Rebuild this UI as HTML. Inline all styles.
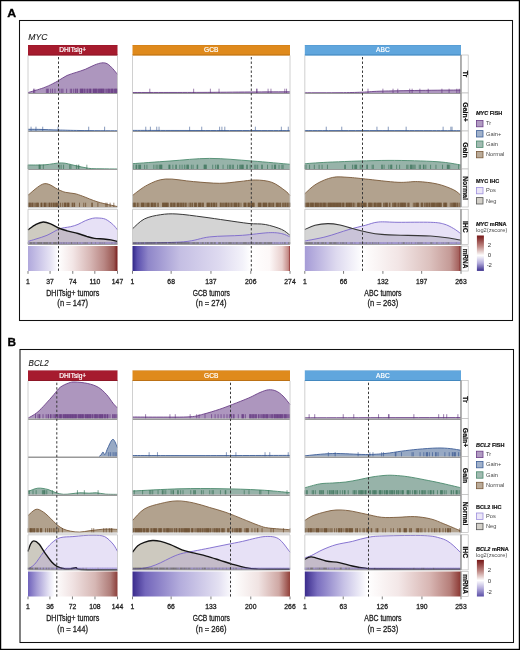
<!DOCTYPE html>
<html><head><meta charset="utf-8"><style>
html,body{margin:0;padding:0;background:#fff;}
svg{display:block;font-family:"Liberation Sans",sans-serif;will-change:transform;}
</style></head><body>
<svg width="520" height="650" viewBox="0 0 520 650">
<defs><linearGradient id="g0_0" x1="0" x2="1" y1="0" y2="0"><stop offset="0.000" stop-color="#b0a8dc"/><stop offset="0.250" stop-color="#e6e3f4"/><stop offset="0.340" stop-color="#ffffff"/><stop offset="0.500" stop-color="#f3e6e6"/><stop offset="0.700" stop-color="#d6b5b3"/><stop offset="0.850" stop-color="#b98784"/><stop offset="0.960" stop-color="#9a5853"/><stop offset="1.000" stop-color="#781c1c"/></linearGradient><linearGradient id="g0_1" x1="0" x2="1" y1="0" y2="0"><stop offset="0.000" stop-color="#2e2585"/><stop offset="0.030" stop-color="#5a4fae"/><stop offset="0.100" stop-color="#8f86c9"/><stop offset="0.300" stop-color="#c4bee3"/><stop offset="0.550" stop-color="#dedaf0"/><stop offset="0.700" stop-color="#f3f2fa"/><stop offset="0.750" stop-color="#ffffff"/><stop offset="0.870" stop-color="#fdf8f8"/><stop offset="0.950" stop-color="#e8cfcd"/><stop offset="0.990" stop-color="#c48a86"/><stop offset="1.000" stop-color="#8e2c2c"/></linearGradient><linearGradient id="g0_2" x1="0" x2="1" y1="0" y2="0"><stop offset="0.000" stop-color="#a59bd6"/><stop offset="0.200" stop-color="#ddd9ef"/><stop offset="0.370" stop-color="#ffffff"/><stop offset="0.600" stop-color="#f2e5e5"/><stop offset="0.800" stop-color="#dcc1be"/><stop offset="0.930" stop-color="#c59b97"/><stop offset="0.985" stop-color="#a5625e"/><stop offset="1.000" stop-color="#7a1a1a"/></linearGradient><linearGradient id="leg0" x1="0" x2="0" y1="0" y2="1"><stop offset="0" stop-color="#761616"/><stop offset="0.3" stop-color="#bd8682"/><stop offset="0.56" stop-color="#ffffff"/><stop offset="0.78" stop-color="#b3abdb"/><stop offset="1" stop-color="#3b2f8d"/></linearGradient><linearGradient id="g325_0" x1="0" x2="1" y1="0" y2="0"><stop offset="0.000" stop-color="#6f62bb"/><stop offset="0.100" stop-color="#a79ed6"/><stop offset="0.240" stop-color="#e8e6f5"/><stop offset="0.300" stop-color="#ffffff"/><stop offset="0.500" stop-color="#f0e2e2"/><stop offset="0.750" stop-color="#d6b7b4"/><stop offset="0.920" stop-color="#b07e7a"/><stop offset="1.000" stop-color="#8c3e3a"/></linearGradient><linearGradient id="g325_1" x1="0" x2="1" y1="0" y2="0"><stop offset="0.000" stop-color="#3a2b8c"/><stop offset="0.080" stop-color="#7366bb"/><stop offset="0.300" stop-color="#b3acdc"/><stop offset="0.550" stop-color="#e4e1f2"/><stop offset="0.640" stop-color="#ffffff"/><stop offset="0.800" stop-color="#f0e3e2"/><stop offset="0.930" stop-color="#cfa8a4"/><stop offset="1.000" stop-color="#914039"/></linearGradient><linearGradient id="g325_2" x1="0" x2="1" y1="0" y2="0"><stop offset="0.000" stop-color="#3a2b8c"/><stop offset="0.080" stop-color="#7a6ebf"/><stop offset="0.250" stop-color="#c7c2e6"/><stop offset="0.400" stop-color="#ffffff"/><stop offset="0.600" stop-color="#f3e7e7"/><stop offset="0.800" stop-color="#d8b6b3"/><stop offset="0.930" stop-color="#b67f7a"/><stop offset="1.000" stop-color="#8a3530"/></linearGradient><linearGradient id="leg325" x1="0" x2="0" y1="0" y2="1"><stop offset="0" stop-color="#761616"/><stop offset="0.3" stop-color="#bd8682"/><stop offset="0.56" stop-color="#ffffff"/><stop offset="0.78" stop-color="#b3abdb"/><stop offset="1" stop-color="#5a4ea6"/></linearGradient></defs>
<rect width="520" height="650" fill="#fff"/>
<rect x="0.6" y="0.6" width="518.8" height="648.8" fill="none" stroke="#000" stroke-width="1.25"/>
<rect x="19.50" y="20.50" width="493.00" height="300.00" fill="none" stroke="#111" stroke-width="1.05"/>
<text x="7.30" y="17.10" font-size="11.80" text-anchor="start" font-weight="bold" font-style="normal" fill="#000" textLength="8.90" lengthAdjust="spacingAndGlyphs" stroke="#000" stroke-width="0.3">A</text>
<text x="28.30" y="39.60" font-size="8.90" text-anchor="start" font-weight="normal" font-style="italic" fill="#1a1a1a" textLength="19.20" lengthAdjust="spacingAndGlyphs" stroke="#1a1a1a" stroke-width="0.12">MYC</text>
<rect x="28.00" y="45.00" width="89.50" height="10.40" fill="#a61b2e"/>
<rect x="28.00" y="54.50" width="89.50" height="0.9" fill="#8a1424"/>
<rect x="28.00" y="45.00" width="89.50" height="0.4" fill="#8a1424" fill-opacity="0.5"/>
<text x="72.75" y="52.40" font-size="6.60" text-anchor="middle" font-weight="normal" font-style="normal" fill="#fff" stroke="#fff" stroke-width="0.2">DHITsig+</text>
<path d="M28.00,92.60 C30.55,91.82 39.23,89.35 43.30,87.90 C47.37,86.45 49.87,85.12 52.40,83.90 C54.93,82.68 56.07,82.00 58.50,80.60 C60.93,79.20 64.05,76.87 67.00,75.50 C69.95,74.13 73.15,73.43 76.20,72.40 C79.25,71.37 82.25,70.53 85.30,69.30 C88.35,68.07 91.75,66.07 94.50,65.00 C97.25,63.93 99.67,63.10 101.80,62.90 C103.93,62.70 105.47,62.83 107.30,63.80 C109.13,64.77 111.10,66.92 112.80,68.70 C114.50,70.48 116.72,73.53 117.50,74.50 L117.50,93.00 L28.00,93.00 Z" fill="#a990bb" fill-opacity="0.95" stroke="none"/>
<path d="M28.00,92.60 C30.55,91.82 39.23,89.35 43.30,87.90 C47.37,86.45 49.87,85.12 52.40,83.90 C54.93,82.68 56.07,82.00 58.50,80.60 C60.93,79.20 64.05,76.87 67.00,75.50 C69.95,74.13 73.15,73.43 76.20,72.40 C79.25,71.37 82.25,70.53 85.30,69.30 C88.35,68.07 91.75,66.07 94.50,65.00 C97.25,63.93 99.67,63.10 101.80,62.90 C103.93,62.70 105.47,62.83 107.30,63.80 C109.13,64.77 111.10,66.92 112.80,68.70 C114.50,70.48 116.72,73.53 117.50,74.50" fill="none" stroke="#6b3f88" stroke-width="0.90"/>
<path d="M33.52,93.00v-4.30M34.74,93.00v-4.30M46.39,93.00v-4.30M47.62,93.00v-4.30M48.23,93.00v-4.30M50.68,93.00v-4.30M52.52,93.00v-4.30M54.97,93.00v-4.30M59.88,93.00v-4.30M61.72,93.00v-4.30M62.94,93.00v-4.30M66.62,93.00v-4.30M70.30,93.00v-4.30M71.52,93.00v-4.30M73.36,93.00v-4.30M75.20,93.00v-4.30M75.82,93.00v-4.30M77.04,93.00v-4.30M77.65,93.00v-4.30M80.11,93.00v-4.30M80.72,93.00v-4.30M81.33,93.00v-4.30M81.95,93.00v-4.30M82.56,93.00v-4.30M83.17,93.00v-4.30M84.40,93.00v-4.30M85.01,93.00v-4.30M86.24,93.00v-4.30M87.46,93.00v-4.30M88.08,93.00v-4.30M89.30,93.00v-4.30M89.91,93.00v-4.30M90.53,93.00v-4.30M91.14,93.00v-4.30M92.98,93.00v-4.30M93.59,93.00v-4.30M94.21,93.00v-4.30M94.82,93.00v-4.30M95.43,93.00v-4.30M96.04,93.00v-4.30M96.66,93.00v-4.30M97.27,93.00v-4.30M98.50,93.00v-4.30M99.11,93.00v-4.30M99.72,93.00v-4.30M100.34,93.00v-4.30M100.95,93.00v-4.30M101.56,93.00v-4.30M102.17,93.00v-4.30M102.79,93.00v-4.30M103.40,93.00v-4.30M104.01,93.00v-4.30M105.24,93.00v-4.30M106.47,93.00v-4.30M107.69,93.00v-4.30M108.30,93.00v-4.30M108.92,93.00v-4.30M109.53,93.00v-4.30M110.76,93.00v-4.30M111.37,93.00v-4.30M111.98,93.00v-4.30M112.60,93.00v-4.30M113.21,93.00v-4.30M114.43,93.00v-4.30M115.05,93.00v-4.30M115.66,93.00v-4.30M116.27,93.00v-4.30M116.89,93.00v-4.30M117.50,93.00v-4.30" stroke="#5a2a78" stroke-width="0.61" stroke-opacity="1.00" fill="none"/>
<path d="M28.00,129.30 C30.00,129.32 35.00,129.28 40.00,129.40 C45.00,129.52 51.33,129.82 58.00,130.00 C64.67,130.18 70.08,130.37 80.00,130.50 C89.92,130.63 111.25,130.75 117.50,130.80 L117.50,131.00 L28.00,131.00 Z" fill="#97a9c4" fill-opacity="1.00" stroke="none"/>
<path d="M28.00,129.30 C30.00,129.32 35.00,129.28 40.00,129.40 C45.00,129.52 51.33,129.82 58.00,130.00 C64.67,130.18 70.08,130.37 80.00,130.50 C89.92,130.63 111.25,130.75 117.50,130.80" fill="none" stroke="#3e5f98" stroke-width="0.90"/>
<path d="M31.07,131.00v-4.30M35.97,131.00v-4.30M42.71,131.00v-4.30M58.04,131.00v-4.30M88.69,131.00v-4.30M104.63,131.00v-4.30" stroke="#36558f" stroke-width="0.61" stroke-opacity="1.00" fill="none"/>
<path d="M28.00,165.00 C30.83,164.97 39.42,165.15 45.00,164.80 C50.58,164.45 56.50,162.78 61.50,162.90 C66.50,163.02 70.50,164.60 75.00,165.50 C79.50,166.40 84.33,167.75 88.50,168.30 C92.67,168.85 95.17,168.68 100.00,168.80 C104.83,168.92 114.58,168.97 117.50,169.00 L117.50,169.00 L28.00,169.00 Z" fill="#97b3a9" fill-opacity="1.00" stroke="none"/>
<path d="M28.00,165.00 C30.83,164.97 39.42,165.15 45.00,164.80 C50.58,164.45 56.50,162.78 61.50,162.90 C66.50,163.02 70.50,164.60 75.00,165.50 C79.50,166.40 84.33,167.75 88.50,168.30 C92.67,168.85 95.17,168.68 100.00,168.80 C104.83,168.92 114.58,168.97 117.50,169.00" fill="none" stroke="#4b8a6d" stroke-width="0.90"/>
<path d="M28.00,169.00v-4.30M39.03,169.00v-4.30M39.65,169.00v-4.30M40.26,169.00v-4.30M43.33,169.00v-4.30M59.26,169.00v-4.30M61.10,169.00v-4.30M63.55,169.00v-4.30M69.68,169.00v-4.30M70.91,169.00v-4.30M76.43,169.00v-4.30M78.27,169.00v-4.30M78.88,169.00v-4.30M86.85,169.00v-4.30" stroke="#2f6a4f" stroke-width="0.61" stroke-opacity="1.00" fill="none"/>
<path d="M28.00,195.20 C30.70,193.28 39.08,184.60 44.20,183.70 C49.32,182.80 55.17,188.37 58.70,189.80 C62.23,191.23 62.68,191.65 65.40,192.30 C68.12,192.95 72.12,193.05 75.00,193.70 C77.88,194.35 78.87,194.82 82.70,196.20 C86.53,197.58 92.20,200.27 98.00,202.00 C103.80,203.73 114.25,205.83 117.50,206.60 L117.50,207.00 L28.00,207.00 Z" fill="#b2a28e" fill-opacity="1.00" stroke="none"/>
<path d="M28.00,195.20 C30.70,193.28 39.08,184.60 44.20,183.70 C49.32,182.80 55.17,188.37 58.70,189.80 C62.23,191.23 62.68,191.65 65.40,192.30 C68.12,192.95 72.12,193.05 75.00,193.70 C77.88,194.35 78.87,194.82 82.70,196.20 C86.53,197.58 92.20,200.27 98.00,202.00 C103.80,203.73 114.25,205.83 117.50,206.60" fill="none" stroke="#7a5a3a" stroke-width="0.90"/>
<path d="M28.61,207.00v-4.30M29.23,207.00v-4.30M29.84,207.00v-4.30M30.45,207.00v-4.30M31.68,207.00v-4.30M32.29,207.00v-4.30M32.90,207.00v-4.30M34.13,207.00v-4.30M35.36,207.00v-4.30M36.58,207.00v-4.30M37.20,207.00v-4.30M37.81,207.00v-4.30M38.42,207.00v-4.30M40.87,207.00v-4.30M41.49,207.00v-4.30M42.10,207.00v-4.30M43.94,207.00v-4.30M44.55,207.00v-4.30M45.16,207.00v-4.30M45.78,207.00v-4.30M47.00,207.00v-4.30M48.84,207.00v-4.30M49.46,207.00v-4.30M50.07,207.00v-4.30M51.29,207.00v-4.30M51.91,207.00v-4.30M53.13,207.00v-4.30M53.75,207.00v-4.30M54.36,207.00v-4.30M55.59,207.00v-4.30M56.20,207.00v-4.30M56.81,207.00v-4.30M57.42,207.00v-4.30M58.65,207.00v-4.30M60.49,207.00v-4.30M62.33,207.00v-4.30M64.17,207.00v-4.30M64.78,207.00v-4.30M65.39,207.00v-4.30M66.01,207.00v-4.30M67.23,207.00v-4.30M67.85,207.00v-4.30M68.46,207.00v-4.30M69.07,207.00v-4.30M72.14,207.00v-4.30M72.75,207.00v-4.30M73.98,207.00v-4.30M74.59,207.00v-4.30M79.49,207.00v-4.30M83.78,207.00v-4.30M85.62,207.00v-4.30M91.75,207.00v-4.30M92.37,207.00v-4.30M97.88,207.00v-4.30M105.85,207.00v-4.30M107.08,207.00v-4.30M110.14,207.00v-4.30M113.82,207.00v-4.30" stroke="#5c3c1c" stroke-width="0.61" stroke-opacity="1.00" fill="none"/>
<path d="M28.00,229.90 C29.33,228.98 33.45,225.72 36.00,224.40 C38.55,223.08 40.87,222.10 43.30,222.00 C45.73,221.90 48.07,222.80 50.60,223.80 C53.13,224.80 55.77,226.83 58.50,228.00 C61.23,229.17 63.75,229.88 67.00,230.80 C70.25,231.72 74.63,232.53 78.00,233.50 C81.37,234.47 84.45,235.78 87.20,236.60 C89.95,237.42 91.77,238.00 94.50,238.40 C97.23,238.80 100.87,238.75 103.60,239.00 C106.33,239.25 108.58,239.50 110.90,239.90 C113.22,240.30 116.40,241.15 117.50,241.40 L117.50,244.40 L28.00,244.40 Z" fill="#cecbc1" stroke="none"/>
<path d="M28.00,241.40 C29.33,241.00 32.83,240.02 36.00,239.00 C39.17,237.98 43.25,236.92 47.00,235.30 C50.75,233.68 55.62,230.57 58.50,229.30 C61.38,228.03 62.27,228.13 64.30,227.70 C66.33,227.27 68.42,227.25 70.70,226.70 C72.98,226.15 75.57,225.40 78.00,224.40 C80.43,223.40 82.87,221.72 85.30,220.70 C87.73,219.68 90.47,218.75 92.60,218.30 C94.73,217.85 95.97,217.85 98.10,218.00 C100.23,218.15 102.95,218.13 105.40,219.20 C107.85,220.27 110.78,222.62 112.80,224.40 C114.82,226.18 116.72,228.98 117.50,229.90 L117.50,244.40 L28.00,244.40 Z" fill="#b09be0" fill-opacity="0.3" stroke="none"/>
<path d="M28.00,241.40 C29.33,241.00 32.83,240.02 36.00,239.00 C39.17,237.98 43.25,236.92 47.00,235.30 C50.75,233.68 55.62,230.57 58.50,229.30 C61.38,228.03 62.27,228.13 64.30,227.70 C66.33,227.27 68.42,227.25 70.70,226.70 C72.98,226.15 75.57,225.40 78.00,224.40 C80.43,223.40 82.87,221.72 85.30,220.70 C87.73,219.68 90.47,218.75 92.60,218.30 C94.73,217.85 95.97,217.85 98.10,218.00 C100.23,218.15 102.95,218.13 105.40,219.20 C107.85,220.27 110.78,222.62 112.80,224.40 C114.82,226.18 116.72,228.98 117.50,229.90" fill="none" stroke="#7a66cc" stroke-width="0.9"/>
<path d="M28.00,229.90 C29.33,228.98 33.45,225.72 36.00,224.40 C38.55,223.08 40.87,222.10 43.30,222.00 C45.73,221.90 48.07,222.80 50.60,223.80 C53.13,224.80 55.77,226.83 58.50,228.00 C61.23,229.17 63.75,229.88 67.00,230.80 C70.25,231.72 74.63,232.53 78.00,233.50 C81.37,234.47 84.45,235.78 87.20,236.60 C89.95,237.42 91.77,238.00 94.50,238.40 C97.23,238.80 100.87,238.75 103.60,239.00 C106.33,239.25 108.58,239.50 110.90,239.90 C113.22,240.30 116.40,241.15 117.50,241.40" fill="none" stroke="#141414" stroke-width="1.40"/>
<path d="M28.00,244.10v-2.0M29.84,244.10v-2.0M30.45,244.10v-2.0M31.07,244.10v-2.0M31.68,244.10v-2.0M32.29,244.10v-2.0M33.52,244.10v-2.0M34.13,244.10v-2.0M34.74,244.10v-2.0M35.97,244.10v-2.0M37.20,244.10v-2.0M37.81,244.10v-2.0M38.42,244.10v-2.0M39.03,244.10v-2.0M39.65,244.10v-2.0M40.26,244.10v-2.0M40.87,244.10v-2.0M41.49,244.10v-2.0M42.10,244.10v-2.0M43.33,244.10v-2.0M43.94,244.10v-2.0M44.55,244.10v-2.0M45.16,244.10v-2.0M45.78,244.10v-2.0M46.39,244.10v-2.0M47.00,244.10v-2.0M47.62,244.10v-2.0M48.23,244.10v-2.0M49.46,244.10v-2.0M50.07,244.10v-2.0M50.68,244.10v-2.0M51.29,244.10v-2.0M53.13,244.10v-2.0M53.75,244.10v-2.0M54.36,244.10v-2.0M54.97,244.10v-2.0M55.59,244.10v-2.0M56.20,244.10v-2.0M56.81,244.10v-2.0M58.04,244.10v-2.0M59.88,244.10v-2.0M61.72,244.10v-2.0M63.55,244.10v-2.0M64.78,244.10v-2.0M66.62,244.10v-2.0M69.07,244.10v-2.0M70.91,244.10v-2.0M71.52,244.10v-2.0M72.14,244.10v-2.0M73.98,244.10v-2.0M75.20,244.10v-2.0M77.04,244.10v-2.0M77.65,244.10v-2.0M80.11,244.10v-2.0M83.17,244.10v-2.0M84.40,244.10v-2.0M85.62,244.10v-2.0M86.24,244.10v-2.0M87.46,244.10v-2.0M91.14,244.10v-2.0M91.75,244.10v-2.0M95.43,244.10v-2.0M99.72,244.10v-2.0M100.95,244.10v-2.0M102.79,244.10v-2.0M104.63,244.10v-2.0M111.98,244.10v-2.0M115.05,244.10v-2.0M116.27,244.10v-2.0" stroke="#262626" stroke-width="0.61" stroke-opacity="0.55"/>
<path d="M28.61,244.10v-2.0M29.23,244.10v-2.0M32.90,244.10v-2.0M35.36,244.10v-2.0M36.58,244.10v-2.0M42.71,244.10v-2.0M48.84,244.10v-2.0M51.91,244.10v-2.0M52.52,244.10v-2.0M57.42,244.10v-2.0M58.65,244.10v-2.0M59.26,244.10v-2.0M60.49,244.10v-2.0M61.10,244.10v-2.0M62.33,244.10v-2.0M62.94,244.10v-2.0M64.17,244.10v-2.0M65.39,244.10v-2.0M66.01,244.10v-2.0M67.23,244.10v-2.0M67.85,244.10v-2.0M68.46,244.10v-2.0M69.68,244.10v-2.0M70.30,244.10v-2.0M72.75,244.10v-2.0M73.36,244.10v-2.0M74.59,244.10v-2.0M75.82,244.10v-2.0M76.43,244.10v-2.0M78.27,244.10v-2.0M78.88,244.10v-2.0M79.49,244.10v-2.0M80.72,244.10v-2.0M81.33,244.10v-2.0M81.95,244.10v-2.0M82.56,244.10v-2.0M83.78,244.10v-2.0M85.01,244.10v-2.0M86.85,244.10v-2.0M88.08,244.10v-2.0M88.69,244.10v-2.0M89.30,244.10v-2.0M89.91,244.10v-2.0M90.53,244.10v-2.0M92.37,244.10v-2.0M92.98,244.10v-2.0M93.59,244.10v-2.0M94.21,244.10v-2.0M94.82,244.10v-2.0M96.04,244.10v-2.0M96.66,244.10v-2.0M97.27,244.10v-2.0M97.88,244.10v-2.0M98.50,244.10v-2.0M99.11,244.10v-2.0M100.34,244.10v-2.0M101.56,244.10v-2.0M102.17,244.10v-2.0M103.40,244.10v-2.0M104.01,244.10v-2.0M105.24,244.10v-2.0M105.85,244.10v-2.0M106.47,244.10v-2.0M107.08,244.10v-2.0M107.69,244.10v-2.0M108.30,244.10v-2.0M108.92,244.10v-2.0M109.53,244.10v-2.0M110.14,244.10v-2.0M110.76,244.10v-2.0M111.37,244.10v-2.0M112.60,244.10v-2.0M113.21,244.10v-2.0M113.82,244.10v-2.0M114.43,244.10v-2.0M115.66,244.10v-2.0M116.89,244.10v-2.0M117.50,244.10v-2.0" stroke="#7462c4" stroke-width="0.61" stroke-opacity="0.55"/>
<rect x="28.00" y="246.00" width="89.50" height="25.00" fill="url(#g0_0)"/>
<line x1="28.00" x2="117.50" y1="93.50" y2="93.50" stroke="#999" stroke-width="1.00"/>
<line x1="28.00" x2="117.50" y1="131.50" y2="131.50" stroke="#999" stroke-width="1.00"/>
<line x1="28.00" x2="117.50" y1="169.50" y2="169.50" stroke="#999" stroke-width="1.00"/>
<line x1="28.00" x2="117.50" y1="207.60" y2="207.60" stroke="#c8c8c8" stroke-width="1"/>
<line x1="28.00" x2="117.50" y1="209.30" y2="209.30" stroke="#bdbdbd" stroke-width="0.8"/>
<line x1="28.00" x2="117.50" y1="244.40" y2="244.40" stroke="#8c8c8c" stroke-width="0.8"/>
<line x1="28.00" x2="28.00" y1="55.40" y2="207.00" stroke="#c4c4c4" stroke-width="0.8"/>
<line x1="28.00" x2="28.00" y1="209.30" y2="244.40" stroke="#c4c4c4" stroke-width="0.8"/>
<line x1="117.50" x2="117.50" y1="55.40" y2="207.00" stroke="#c4c4c4" stroke-width="0.8"/>
<line x1="117.50" x2="117.50" y1="209.30" y2="244.40" stroke="#c4c4c4" stroke-width="0.8"/>
<line x1="58.50" x2="58.50" y1="55.40" y2="272.00" stroke="#383838" stroke-width="1.0" stroke-dasharray="2.4,2.1" stroke-dashoffset="2.900"/>
<line x1="28.00" x2="28.00" y1="271.00" y2="273.80" stroke="#444" stroke-width="0.7"/>
<text x="28.00" y="283.60" font-size="6.80" text-anchor="middle" font-weight="normal" font-style="normal" fill="#1e1e1e" stroke="#1e1e1e" stroke-width="0.28">1</text>
<line x1="50.07" x2="50.07" y1="271.00" y2="273.80" stroke="#444" stroke-width="0.7"/>
<text x="50.07" y="283.60" font-size="6.80" text-anchor="middle" font-weight="normal" font-style="normal" fill="#1e1e1e" stroke="#1e1e1e" stroke-width="0.28">37</text>
<line x1="72.75" x2="72.75" y1="271.00" y2="273.80" stroke="#444" stroke-width="0.7"/>
<text x="72.75" y="283.60" font-size="6.80" text-anchor="middle" font-weight="normal" font-style="normal" fill="#1e1e1e" stroke="#1e1e1e" stroke-width="0.28">74</text>
<line x1="94.82" x2="94.82" y1="271.00" y2="273.80" stroke="#444" stroke-width="0.7"/>
<text x="94.82" y="283.60" font-size="6.80" text-anchor="middle" font-weight="normal" font-style="normal" fill="#1e1e1e" stroke="#1e1e1e" stroke-width="0.28">110</text>
<line x1="117.50" x2="117.50" y1="271.00" y2="273.80" stroke="#444" stroke-width="0.7"/>
<text x="117.50" y="283.60" font-size="6.80" text-anchor="middle" font-weight="normal" font-style="normal" fill="#1e1e1e" stroke="#1e1e1e" stroke-width="0.28">147</text>
<text x="72.75" y="295.90" font-size="8.40" text-anchor="middle" font-weight="normal" font-style="normal" fill="#1e1e1e" textLength="53.20" lengthAdjust="spacingAndGlyphs" stroke="#1e1e1e" stroke-width="0.28">DHITsig+ tumors</text>
<text x="72.75" y="306.00" font-size="8.40" text-anchor="middle" font-weight="normal" font-style="normal" fill="#1e1e1e" textLength="30.80" lengthAdjust="spacingAndGlyphs" stroke="#1e1e1e" stroke-width="0.28">(n = 147)</text>
<rect x="132.50" y="45.00" width="157.50" height="10.40" fill="#df8a1c"/>
<rect x="132.50" y="54.50" width="157.50" height="0.9" fill="#b86e12"/>
<rect x="132.50" y="45.00" width="157.50" height="0.4" fill="#b86e12" fill-opacity="0.5"/>
<text x="211.25" y="52.40" font-size="6.60" text-anchor="middle" font-weight="normal" font-style="normal" fill="#fff" stroke="#fff" stroke-width="0.2">GCB</text>
<path d="M132.50,92.50 C143.75,92.48 180.42,92.48 200.00,92.40 C219.58,92.32 235.00,92.10 250.00,92.00 C265.00,91.90 283.33,91.83 290.00,91.80 L290.00,93.00 L132.50,93.00 Z" fill="#a990bb" fill-opacity="0.95" stroke="none"/>
<path d="M132.50,92.50 C143.75,92.48 180.42,92.48 200.00,92.40 C219.58,92.32 235.00,92.10 250.00,92.00 C265.00,91.90 283.33,91.83 290.00,91.80" fill="none" stroke="#6b3f88" stroke-width="0.90"/>
<path d="M149.81,93.00v-4.30M193.65,93.00v-4.30M210.38,93.00v-4.30M219.04,93.00v-4.30M256.54,93.00v-4.30M257.12,93.00v-4.30M268.08,93.00v-4.30M270.96,93.00v-4.30M284.81,93.00v-4.30M286.54,93.00v-4.30" stroke="#5a2a78" stroke-width="0.58" stroke-opacity="1.00" fill="none"/>
<path d="M132.50,130.40 C143.75,130.42 173.75,130.47 200.00,130.50 C226.25,130.53 275.00,130.58 290.00,130.60 L290.00,131.00 L132.50,131.00 Z" fill="#97a9c4" fill-opacity="1.00" stroke="none"/>
<path d="M132.50,130.40 C143.75,130.42 173.75,130.47 200.00,130.50 C226.25,130.53 275.00,130.58 290.00,130.60" fill="none" stroke="#3e5f98" stroke-width="0.90"/>
<path d="M145.77,131.00v-4.30M150.38,131.00v-4.30M156.73,131.00v-4.30M159.04,131.00v-4.30M189.62,131.00v-4.30M201.73,131.00v-4.30M219.62,131.00v-4.30M221.92,131.00v-4.30M224.81,131.00v-4.30M255.38,131.00v-4.30M281.35,131.00v-4.30M288.27,131.00v-4.30" stroke="#36558f" stroke-width="0.58" stroke-opacity="1.00" fill="none"/>
<path d="M132.50,163.70 C138.75,163.25 157.13,161.88 170.00,161.00 C182.87,160.12 196.03,158.40 209.70,158.40 C223.37,158.40 238.62,160.02 252.00,161.00 C265.38,161.98 283.67,163.75 290.00,164.30 L290.00,169.00 L132.50,169.00 Z" fill="#97b3a9" fill-opacity="1.00" stroke="none"/>
<path d="M132.50,163.70 C138.75,163.25 157.13,161.88 170.00,161.00 C182.87,160.12 196.03,158.40 209.70,158.40 C223.37,158.40 238.62,160.02 252.00,161.00 C265.38,161.98 283.67,163.75 290.00,164.30" fill="none" stroke="#4b8a6d" stroke-width="0.90"/>
<path d="M133.08,169.00v-4.30M135.96,169.00v-4.30M136.54,169.00v-4.30M138.27,169.00v-4.30M139.42,169.00v-4.30M140.00,169.00v-4.30M140.58,169.00v-4.30M144.62,169.00v-4.30M146.92,169.00v-4.30M153.85,169.00v-4.30M156.15,169.00v-4.30M157.88,169.00v-4.30M159.62,169.00v-4.30M160.19,169.00v-4.30M160.77,169.00v-4.30M161.35,169.00v-4.30M161.92,169.00v-4.30M168.85,169.00v-4.30M169.42,169.00v-4.30M170.00,169.00v-4.30M172.88,169.00v-4.30M175.77,169.00v-4.30M176.35,169.00v-4.30M179.81,169.00v-4.30M182.12,169.00v-4.30M184.42,169.00v-4.30M186.15,169.00v-4.30M187.31,169.00v-4.30M187.88,169.00v-4.30M188.46,169.00v-4.30M191.35,169.00v-4.30M193.08,169.00v-4.30M197.12,169.00v-4.30M197.69,169.00v-4.30M204.04,169.00v-4.30M204.62,169.00v-4.30M205.19,169.00v-4.30M205.77,169.00v-4.30M206.35,169.00v-4.30M212.69,169.00v-4.30M215.58,169.00v-4.30M217.31,169.00v-4.30M217.88,169.00v-4.30M218.46,169.00v-4.30M223.08,169.00v-4.30M227.69,169.00v-4.30M229.42,169.00v-4.30M230.58,169.00v-4.30M232.31,169.00v-4.30M233.46,169.00v-4.30M237.50,169.00v-4.30M239.81,169.00v-4.30M240.38,169.00v-4.30M241.54,169.00v-4.30M242.12,169.00v-4.30M242.69,169.00v-4.30M243.27,169.00v-4.30M246.73,169.00v-4.30M247.31,169.00v-4.30M250.19,169.00v-4.30M254.81,169.00v-4.30M255.96,169.00v-4.30M257.69,169.00v-4.30M261.73,169.00v-4.30M262.31,169.00v-4.30M267.50,169.00v-4.30M272.12,169.00v-4.30M274.42,169.00v-4.30M275.00,169.00v-4.30M275.58,169.00v-4.30M279.04,169.00v-4.30M281.92,169.00v-4.30M283.08,169.00v-4.30" stroke="#2f6a4f" stroke-width="0.58" stroke-opacity="1.00" fill="none"/>
<path d="M132.50,195.40 C135.02,193.65 142.08,187.63 147.60,184.90 C153.12,182.17 157.97,179.55 165.60,179.00 C173.23,178.45 184.42,180.88 193.40,181.60 C202.38,182.32 211.90,183.30 219.50,183.30 C227.10,183.30 233.00,182.15 239.00,181.60 C245.00,181.05 250.03,179.88 255.50,180.00 C260.97,180.12 266.90,180.55 271.80,182.30 C276.70,184.05 281.87,188.32 284.90,190.50 C287.93,192.68 289.15,194.58 290.00,195.40 L290.00,207.00 L132.50,207.00 Z" fill="#b2a28e" fill-opacity="1.00" stroke="none"/>
<path d="M132.50,195.40 C135.02,193.65 142.08,187.63 147.60,184.90 C153.12,182.17 157.97,179.55 165.60,179.00 C173.23,178.45 184.42,180.88 193.40,181.60 C202.38,182.32 211.90,183.30 219.50,183.30 C227.10,183.30 233.00,182.15 239.00,181.60 C245.00,181.05 250.03,179.88 255.50,180.00 C260.97,180.12 266.90,180.55 271.80,182.30 C276.70,184.05 281.87,188.32 284.90,190.50 C287.93,192.68 289.15,194.58 290.00,195.40" fill="none" stroke="#7a5a3a" stroke-width="0.90"/>
<path d="M132.50,207.00v-4.30M133.65,207.00v-4.30M134.23,207.00v-4.30M134.81,207.00v-4.30M135.38,207.00v-4.30M137.12,207.00v-4.30M137.69,207.00v-4.30M138.85,207.00v-4.30M141.15,207.00v-4.30M141.73,207.00v-4.30M142.31,207.00v-4.30M142.88,207.00v-4.30M143.46,207.00v-4.30M144.04,207.00v-4.30M145.19,207.00v-4.30M146.35,207.00v-4.30M147.50,207.00v-4.30M148.08,207.00v-4.30M148.65,207.00v-4.30M149.23,207.00v-4.30M150.96,207.00v-4.30M151.54,207.00v-4.30M152.12,207.00v-4.30M152.69,207.00v-4.30M153.27,207.00v-4.30M154.42,207.00v-4.30M155.00,207.00v-4.30M155.58,207.00v-4.30M157.31,207.00v-4.30M158.46,207.00v-4.30M162.50,207.00v-4.30M163.08,207.00v-4.30M163.65,207.00v-4.30M164.23,207.00v-4.30M164.81,207.00v-4.30M165.38,207.00v-4.30M165.96,207.00v-4.30M166.54,207.00v-4.30M167.12,207.00v-4.30M167.69,207.00v-4.30M168.27,207.00v-4.30M170.58,207.00v-4.30M171.15,207.00v-4.30M171.73,207.00v-4.30M172.31,207.00v-4.30M173.46,207.00v-4.30M174.04,207.00v-4.30M174.62,207.00v-4.30M175.19,207.00v-4.30M176.92,207.00v-4.30M177.50,207.00v-4.30M178.08,207.00v-4.30M178.65,207.00v-4.30M179.23,207.00v-4.30M180.38,207.00v-4.30M180.96,207.00v-4.30M181.54,207.00v-4.30M182.69,207.00v-4.30M183.27,207.00v-4.30M183.85,207.00v-4.30M185.00,207.00v-4.30M185.58,207.00v-4.30M186.73,207.00v-4.30M189.04,207.00v-4.30M190.19,207.00v-4.30M190.77,207.00v-4.30M191.92,207.00v-4.30M192.50,207.00v-4.30M194.23,207.00v-4.30M194.81,207.00v-4.30M195.38,207.00v-4.30M195.96,207.00v-4.30M196.54,207.00v-4.30M198.27,207.00v-4.30M198.85,207.00v-4.30M199.42,207.00v-4.30M200.00,207.00v-4.30M200.58,207.00v-4.30M201.15,207.00v-4.30M202.31,207.00v-4.30M202.88,207.00v-4.30M203.46,207.00v-4.30M206.92,207.00v-4.30M207.50,207.00v-4.30M208.08,207.00v-4.30M208.65,207.00v-4.30M209.23,207.00v-4.30M209.81,207.00v-4.30M210.96,207.00v-4.30M211.54,207.00v-4.30M212.12,207.00v-4.30M213.27,207.00v-4.30M213.85,207.00v-4.30M214.42,207.00v-4.30M215.00,207.00v-4.30M216.15,207.00v-4.30M216.73,207.00v-4.30M220.19,207.00v-4.30M220.77,207.00v-4.30M221.35,207.00v-4.30M222.50,207.00v-4.30M223.65,207.00v-4.30M224.23,207.00v-4.30M225.38,207.00v-4.30M225.96,207.00v-4.30M226.54,207.00v-4.30M227.12,207.00v-4.30M228.27,207.00v-4.30M228.85,207.00v-4.30M230.00,207.00v-4.30M231.15,207.00v-4.30M231.73,207.00v-4.30M232.88,207.00v-4.30M234.04,207.00v-4.30M234.62,207.00v-4.30M235.19,207.00v-4.30M235.77,207.00v-4.30M236.35,207.00v-4.30M236.92,207.00v-4.30M238.08,207.00v-4.30M238.65,207.00v-4.30M239.23,207.00v-4.30M240.96,207.00v-4.30M243.85,207.00v-4.30M244.42,207.00v-4.30M245.00,207.00v-4.30M245.58,207.00v-4.30M246.15,207.00v-4.30M247.88,207.00v-4.30M248.46,207.00v-4.30M249.04,207.00v-4.30M249.62,207.00v-4.30M250.77,207.00v-4.30M251.35,207.00v-4.30M251.92,207.00v-4.30M252.50,207.00v-4.30M253.08,207.00v-4.30M253.65,207.00v-4.30M254.23,207.00v-4.30M258.27,207.00v-4.30M258.85,207.00v-4.30M259.42,207.00v-4.30M260.00,207.00v-4.30M260.58,207.00v-4.30M261.15,207.00v-4.30M262.88,207.00v-4.30M263.46,207.00v-4.30M264.04,207.00v-4.30M264.62,207.00v-4.30M265.19,207.00v-4.30M265.77,207.00v-4.30M266.35,207.00v-4.30M266.92,207.00v-4.30M268.65,207.00v-4.30M269.23,207.00v-4.30M269.81,207.00v-4.30M270.38,207.00v-4.30M271.54,207.00v-4.30M272.69,207.00v-4.30M273.27,207.00v-4.30M273.85,207.00v-4.30M276.15,207.00v-4.30M276.73,207.00v-4.30M277.31,207.00v-4.30M277.88,207.00v-4.30M278.46,207.00v-4.30M279.62,207.00v-4.30M280.19,207.00v-4.30M280.77,207.00v-4.30M282.50,207.00v-4.30M283.65,207.00v-4.30M284.23,207.00v-4.30M285.38,207.00v-4.30M285.96,207.00v-4.30M287.12,207.00v-4.30M287.69,207.00v-4.30M288.85,207.00v-4.30M289.42,207.00v-4.30M290.00,207.00v-4.30" stroke="#5c3c1c" stroke-width="0.58" stroke-opacity="1.00" fill="none"/>
<path d="M132.50,228.80 C134.47,227.17 139.60,221.35 144.30,219.00 C149.00,216.65 155.25,215.53 160.70,214.70 C166.15,213.87 169.95,213.62 177.00,214.00 C184.05,214.38 194.83,215.95 203.00,217.00 C211.17,218.05 218.33,219.22 226.00,220.30 C233.67,221.38 242.45,222.80 249.00,223.50 C255.55,224.20 259.87,223.52 265.30,224.50 C270.73,225.48 277.48,227.60 281.60,229.40 C285.72,231.20 288.60,234.32 290.00,235.30 L290.00,244.40 L132.50,244.40 Z" fill="#d4d4d4" stroke="none"/>
<path d="M132.50,243.20 C141.02,242.97 170.73,242.85 183.60,241.80 C196.47,240.75 199.90,237.98 209.70,236.90 C219.50,235.82 232.60,236.00 242.40,235.30 C252.20,234.60 261.97,232.98 268.50,232.70 C275.03,232.42 278.02,232.90 281.60,233.60 C285.18,234.30 288.60,236.35 290.00,236.90 L290.00,244.40 L132.50,244.40 Z" fill="#b09be0" fill-opacity="0.3" stroke="none"/>
<path d="M132.50,243.20 C141.02,242.97 170.73,242.85 183.60,241.80 C196.47,240.75 199.90,237.98 209.70,236.90 C219.50,235.82 232.60,236.00 242.40,235.30 C252.20,234.60 261.97,232.98 268.50,232.70 C275.03,232.42 278.02,232.90 281.60,233.60 C285.18,234.30 288.60,236.35 290.00,236.90" fill="none" stroke="#7a66cc" stroke-width="0.9"/>
<path d="M132.50,228.80 C134.47,227.17 139.60,221.35 144.30,219.00 C149.00,216.65 155.25,215.53 160.70,214.70 C166.15,213.87 169.95,213.62 177.00,214.00 C184.05,214.38 194.83,215.95 203.00,217.00 C211.17,218.05 218.33,219.22 226.00,220.30 C233.67,221.38 242.45,222.80 249.00,223.50 C255.55,224.20 259.87,223.52 265.30,224.50 C270.73,225.48 277.48,227.60 281.60,229.40 C285.72,231.20 288.60,234.32 290.00,235.30" fill="none" stroke="#383838" stroke-width="1.00"/>
<path d="M132.50,244.10v-2.0M133.08,244.10v-2.0M133.65,244.10v-2.0M134.23,244.10v-2.0M134.81,244.10v-2.0M135.38,244.10v-2.0M135.96,244.10v-2.0M136.54,244.10v-2.0M137.69,244.10v-2.0M138.27,244.10v-2.0M138.85,244.10v-2.0M139.42,244.10v-2.0M140.58,244.10v-2.0M141.15,244.10v-2.0M141.73,244.10v-2.0M142.31,244.10v-2.0M142.88,244.10v-2.0M143.46,244.10v-2.0M144.04,244.10v-2.0M145.19,244.10v-2.0M145.77,244.10v-2.0M146.35,244.10v-2.0M146.92,244.10v-2.0M147.50,244.10v-2.0M148.08,244.10v-2.0M148.65,244.10v-2.0M149.23,244.10v-2.0M149.81,244.10v-2.0M150.38,244.10v-2.0M150.96,244.10v-2.0M151.54,244.10v-2.0M152.12,244.10v-2.0M152.69,244.10v-2.0M153.27,244.10v-2.0M153.85,244.10v-2.0M154.42,244.10v-2.0M155.00,244.10v-2.0M155.58,244.10v-2.0M156.73,244.10v-2.0M157.31,244.10v-2.0M157.88,244.10v-2.0M158.46,244.10v-2.0M159.04,244.10v-2.0M159.62,244.10v-2.0M160.19,244.10v-2.0M160.77,244.10v-2.0M161.35,244.10v-2.0M161.92,244.10v-2.0M162.50,244.10v-2.0M163.08,244.10v-2.0M163.65,244.10v-2.0M164.23,244.10v-2.0M164.81,244.10v-2.0M165.38,244.10v-2.0M165.96,244.10v-2.0M166.54,244.10v-2.0M167.12,244.10v-2.0M168.27,244.10v-2.0M168.85,244.10v-2.0M169.42,244.10v-2.0M170.00,244.10v-2.0M170.58,244.10v-2.0M171.15,244.10v-2.0M171.73,244.10v-2.0M172.31,244.10v-2.0M172.88,244.10v-2.0M173.46,244.10v-2.0M174.04,244.10v-2.0M174.62,244.10v-2.0M175.19,244.10v-2.0M175.77,244.10v-2.0M176.92,244.10v-2.0M177.50,244.10v-2.0M178.08,244.10v-2.0M178.65,244.10v-2.0M179.23,244.10v-2.0M179.81,244.10v-2.0M180.38,244.10v-2.0M180.96,244.10v-2.0M181.54,244.10v-2.0M182.12,244.10v-2.0M182.69,244.10v-2.0M183.27,244.10v-2.0M183.85,244.10v-2.0M184.42,244.10v-2.0M185.00,244.10v-2.0M185.58,244.10v-2.0M186.15,244.10v-2.0M186.73,244.10v-2.0M187.31,244.10v-2.0M187.88,244.10v-2.0M188.46,244.10v-2.0M189.04,244.10v-2.0M189.62,244.10v-2.0M190.77,244.10v-2.0M191.35,244.10v-2.0M192.50,244.10v-2.0M193.08,244.10v-2.0M193.65,244.10v-2.0M194.23,244.10v-2.0M194.81,244.10v-2.0M195.38,244.10v-2.0M196.54,244.10v-2.0M197.12,244.10v-2.0M197.69,244.10v-2.0M198.27,244.10v-2.0M198.85,244.10v-2.0M200.58,244.10v-2.0M201.73,244.10v-2.0M202.31,244.10v-2.0M202.88,244.10v-2.0M203.46,244.10v-2.0M205.19,244.10v-2.0M205.77,244.10v-2.0M206.92,244.10v-2.0M207.50,244.10v-2.0M208.08,244.10v-2.0M208.65,244.10v-2.0M210.38,244.10v-2.0M210.96,244.10v-2.0M211.54,244.10v-2.0M212.12,244.10v-2.0M212.69,244.10v-2.0M213.85,244.10v-2.0M214.42,244.10v-2.0M215.00,244.10v-2.0M215.58,244.10v-2.0M218.46,244.10v-2.0M219.04,244.10v-2.0M219.62,244.10v-2.0M220.19,244.10v-2.0M220.77,244.10v-2.0M222.50,244.10v-2.0M223.08,244.10v-2.0M223.65,244.10v-2.0M224.81,244.10v-2.0M225.38,244.10v-2.0M226.54,244.10v-2.0M227.12,244.10v-2.0M228.27,244.10v-2.0M228.85,244.10v-2.0M229.42,244.10v-2.0M230.00,244.10v-2.0M230.58,244.10v-2.0M231.15,244.10v-2.0M231.73,244.10v-2.0M232.88,244.10v-2.0M233.46,244.10v-2.0M234.62,244.10v-2.0M235.77,244.10v-2.0M236.35,244.10v-2.0M236.92,244.10v-2.0M237.50,244.10v-2.0M238.65,244.10v-2.0M239.81,244.10v-2.0M240.38,244.10v-2.0M241.54,244.10v-2.0M242.69,244.10v-2.0M243.27,244.10v-2.0M243.85,244.10v-2.0M244.42,244.10v-2.0M245.00,244.10v-2.0M245.58,244.10v-2.0M246.15,244.10v-2.0M246.73,244.10v-2.0M247.88,244.10v-2.0M248.46,244.10v-2.0M249.62,244.10v-2.0M250.77,244.10v-2.0M251.35,244.10v-2.0M252.50,244.10v-2.0M253.08,244.10v-2.0M253.65,244.10v-2.0M255.38,244.10v-2.0M255.96,244.10v-2.0M256.54,244.10v-2.0M257.12,244.10v-2.0M257.69,244.10v-2.0M258.85,244.10v-2.0M259.42,244.10v-2.0M260.00,244.10v-2.0M260.58,244.10v-2.0M261.15,244.10v-2.0M261.73,244.10v-2.0M262.88,244.10v-2.0M264.04,244.10v-2.0M264.62,244.10v-2.0M265.19,244.10v-2.0M265.77,244.10v-2.0M266.35,244.10v-2.0M267.50,244.10v-2.0M268.08,244.10v-2.0M268.65,244.10v-2.0M269.23,244.10v-2.0M269.81,244.10v-2.0M270.38,244.10v-2.0M270.96,244.10v-2.0M271.54,244.10v-2.0M272.12,244.10v-2.0M274.42,244.10v-2.0M276.15,244.10v-2.0M277.88,244.10v-2.0M280.77,244.10v-2.0M282.50,244.10v-2.0M284.23,244.10v-2.0M284.81,244.10v-2.0M285.38,244.10v-2.0M288.27,244.10v-2.0M288.85,244.10v-2.0M289.42,244.10v-2.0M290.00,244.10v-2.0" stroke="#262626" stroke-width="0.58" stroke-opacity="0.55"/>
<path d="M137.12,244.10v-2.0M140.00,244.10v-2.0M144.62,244.10v-2.0M156.15,244.10v-2.0M167.69,244.10v-2.0M176.35,244.10v-2.0M190.19,244.10v-2.0M191.92,244.10v-2.0M195.96,244.10v-2.0M199.42,244.10v-2.0M200.00,244.10v-2.0M201.15,244.10v-2.0M204.04,244.10v-2.0M204.62,244.10v-2.0M206.35,244.10v-2.0M209.23,244.10v-2.0M209.81,244.10v-2.0M213.27,244.10v-2.0M216.15,244.10v-2.0M216.73,244.10v-2.0M217.31,244.10v-2.0M217.88,244.10v-2.0M221.35,244.10v-2.0M221.92,244.10v-2.0M224.23,244.10v-2.0M225.96,244.10v-2.0M227.69,244.10v-2.0M232.31,244.10v-2.0M234.04,244.10v-2.0M235.19,244.10v-2.0M238.08,244.10v-2.0M239.23,244.10v-2.0M240.96,244.10v-2.0M242.12,244.10v-2.0M247.31,244.10v-2.0M249.04,244.10v-2.0M250.19,244.10v-2.0M251.92,244.10v-2.0M254.23,244.10v-2.0M254.81,244.10v-2.0M258.27,244.10v-2.0M262.31,244.10v-2.0M263.46,244.10v-2.0M266.92,244.10v-2.0M272.69,244.10v-2.0M273.27,244.10v-2.0M273.85,244.10v-2.0M275.00,244.10v-2.0M275.58,244.10v-2.0M276.73,244.10v-2.0M277.31,244.10v-2.0M278.46,244.10v-2.0M279.04,244.10v-2.0M279.62,244.10v-2.0M280.19,244.10v-2.0M281.35,244.10v-2.0M281.92,244.10v-2.0M283.08,244.10v-2.0M283.65,244.10v-2.0M285.96,244.10v-2.0M286.54,244.10v-2.0M287.12,244.10v-2.0M287.69,244.10v-2.0" stroke="#7462c4" stroke-width="0.58" stroke-opacity="0.55"/>
<rect x="132.50" y="246.00" width="157.50" height="25.00" fill="url(#g0_1)"/>
<line x1="132.50" x2="290.00" y1="93.50" y2="93.50" stroke="#999" stroke-width="1.00"/>
<line x1="132.50" x2="290.00" y1="131.50" y2="131.50" stroke="#999" stroke-width="1.00"/>
<line x1="132.50" x2="290.00" y1="169.50" y2="169.50" stroke="#999" stroke-width="1.00"/>
<line x1="132.50" x2="290.00" y1="207.60" y2="207.60" stroke="#c8c8c8" stroke-width="1"/>
<line x1="132.50" x2="290.00" y1="209.30" y2="209.30" stroke="#bdbdbd" stroke-width="0.8"/>
<line x1="132.50" x2="290.00" y1="244.40" y2="244.40" stroke="#8c8c8c" stroke-width="0.8"/>
<line x1="132.50" x2="132.50" y1="55.40" y2="207.00" stroke="#c4c4c4" stroke-width="0.8"/>
<line x1="132.50" x2="132.50" y1="209.30" y2="244.40" stroke="#c4c4c4" stroke-width="0.8"/>
<line x1="290.00" x2="290.00" y1="55.40" y2="207.00" stroke="#c4c4c4" stroke-width="0.8"/>
<line x1="290.00" x2="290.00" y1="209.30" y2="244.40" stroke="#c4c4c4" stroke-width="0.8"/>
<line x1="251.30" x2="251.30" y1="55.40" y2="272.00" stroke="#383838" stroke-width="1.0" stroke-dasharray="2.4,2.1" stroke-dashoffset="2.900"/>
<line x1="132.50" x2="132.50" y1="271.00" y2="273.80" stroke="#444" stroke-width="0.7"/>
<text x="132.50" y="283.60" font-size="6.80" text-anchor="middle" font-weight="normal" font-style="normal" fill="#1e1e1e" stroke="#1e1e1e" stroke-width="0.28">1</text>
<line x1="171.15" x2="171.15" y1="271.00" y2="273.80" stroke="#444" stroke-width="0.7"/>
<text x="171.15" y="283.60" font-size="6.80" text-anchor="middle" font-weight="normal" font-style="normal" fill="#1e1e1e" stroke="#1e1e1e" stroke-width="0.28">68</text>
<line x1="210.96" x2="210.96" y1="271.00" y2="273.80" stroke="#444" stroke-width="0.7"/>
<text x="210.96" y="283.60" font-size="6.80" text-anchor="middle" font-weight="normal" font-style="normal" fill="#1e1e1e" stroke="#1e1e1e" stroke-width="0.28">137</text>
<line x1="250.77" x2="250.77" y1="271.00" y2="273.80" stroke="#444" stroke-width="0.7"/>
<text x="250.77" y="283.60" font-size="6.80" text-anchor="middle" font-weight="normal" font-style="normal" fill="#1e1e1e" stroke="#1e1e1e" stroke-width="0.28">206</text>
<line x1="290.00" x2="290.00" y1="271.00" y2="273.80" stroke="#444" stroke-width="0.7"/>
<text x="290.00" y="283.60" font-size="6.80" text-anchor="middle" font-weight="normal" font-style="normal" fill="#1e1e1e" stroke="#1e1e1e" stroke-width="0.28">274</text>
<text x="211.25" y="295.90" font-size="8.40" text-anchor="middle" font-weight="normal" font-style="normal" fill="#1e1e1e" textLength="37.20" lengthAdjust="spacingAndGlyphs" stroke="#1e1e1e" stroke-width="0.28">GCB tumors</text>
<text x="211.25" y="306.00" font-size="8.40" text-anchor="middle" font-weight="normal" font-style="normal" fill="#1e1e1e" textLength="30.80" lengthAdjust="spacingAndGlyphs" stroke="#1e1e1e" stroke-width="0.28">(n = 274)</text>
<rect x="304.80" y="45.00" width="156.20" height="10.40" fill="#60a6dd"/>
<rect x="304.80" y="54.50" width="156.20" height="0.9" fill="#3f84bb"/>
<rect x="304.80" y="45.00" width="156.20" height="0.4" fill="#3f84bb" fill-opacity="0.5"/>
<text x="382.90" y="52.40" font-size="6.60" text-anchor="middle" font-weight="normal" font-style="normal" fill="#fff" stroke="#fff" stroke-width="0.2">ABC</text>
<path d="M304.80,92.80 C310.67,92.78 330.47,92.80 340.00,92.70 C349.53,92.60 355.33,92.45 362.00,92.20 C368.67,91.95 370.33,91.50 380.00,91.20 C389.67,90.90 406.50,90.60 420.00,90.40 C433.50,90.20 454.17,90.07 461.00,90.00 L461.00,93.00 L304.80,93.00 Z" fill="#a990bb" fill-opacity="0.95" stroke="none"/>
<path d="M304.80,92.80 C310.67,92.78 330.47,92.80 340.00,92.70 C349.53,92.60 355.33,92.45 362.00,92.20 C368.67,91.95 370.33,91.50 380.00,91.20 C389.67,90.90 406.50,90.60 420.00,90.40 C433.50,90.20 454.17,90.07 461.00,90.00" fill="none" stroke="#6b3f88" stroke-width="0.90"/>
<path d="M368.00,93.00v-4.30M382.90,93.00v-4.30M393.04,93.00v-4.30M397.80,93.00v-4.30M409.73,93.00v-4.30M412.11,93.00v-4.30M419.86,93.00v-4.30M428.21,93.00v-4.30M441.92,93.00v-4.30M449.08,93.00v-4.30M456.83,93.00v-4.30M459.21,93.00v-4.30" stroke="#5a2a78" stroke-width="0.60" stroke-opacity="1.00" fill="none"/>
<path d="M304.80,130.60 C320.67,130.60 373.97,130.58 400.00,130.60 C426.03,130.62 450.83,130.68 461.00,130.70 L461.00,131.00 L304.80,131.00 Z" fill="#97a9c4" fill-opacity="1.00" stroke="none"/>
<path d="M304.80,130.60 C320.67,130.60 373.97,130.58 400.00,130.60 C426.03,130.62 450.83,130.68 461.00,130.70" fill="none" stroke="#3e5f98" stroke-width="0.90"/>
<path d="M326.26,131.00v-4.30M341.76,131.00v-4.30M376.94,131.00v-4.30M388.27,131.00v-4.30M406.15,131.00v-4.30M443.11,131.00v-4.30M450.86,131.00v-4.30M452.06,131.00v-4.30" stroke="#36558f" stroke-width="0.60" stroke-opacity="1.00" fill="none"/>
<path d="M304.80,163.70 C309.45,163.42 318.83,162.55 332.70,162.00 C346.57,161.45 370.62,160.45 388.00,160.40 C405.38,160.35 424.83,160.93 437.00,161.70 C449.17,162.47 457.00,164.45 461.00,165.00 L461.00,169.00 L304.80,169.00 Z" fill="#97b3a9" fill-opacity="1.00" stroke="none"/>
<path d="M304.80,163.70 C309.45,163.42 318.83,162.55 332.70,162.00 C346.57,161.45 370.62,160.45 388.00,160.40 C405.38,160.35 424.83,160.93 437.00,161.70 C449.17,162.47 457.00,164.45 461.00,165.00" fill="none" stroke="#4b8a6d" stroke-width="0.90"/>
<path d="M304.80,169.00v-4.30M305.99,169.00v-4.30M309.57,169.00v-4.30M314.34,169.00v-4.30M319.11,169.00v-4.30M322.09,169.00v-4.30M327.45,169.00v-4.30M344.74,169.00v-4.30M345.34,169.00v-4.30M352.49,169.00v-4.30M354.28,169.00v-4.30M355.48,169.00v-4.30M356.07,169.00v-4.30M356.67,169.00v-4.30M360.25,169.00v-4.30M362.03,169.00v-4.30M366.80,169.00v-4.30M367.40,169.00v-4.30M372.17,169.00v-4.30M373.36,169.00v-4.30M381.71,169.00v-4.30M382.30,169.00v-4.30M384.09,169.00v-4.30M388.86,169.00v-4.30M390.65,169.00v-4.30M391.25,169.00v-4.30M391.84,169.00v-4.30M396.61,169.00v-4.30M399.59,169.00v-4.30M406.75,169.00v-4.30M407.94,169.00v-4.30M410.32,169.00v-4.30M410.92,169.00v-4.30M411.52,169.00v-4.30M412.71,169.00v-4.30M413.90,169.00v-4.30M415.09,169.00v-4.30M419.27,169.00v-4.30M420.46,169.00v-4.30M423.44,169.00v-4.30M424.04,169.00v-4.30M425.83,169.00v-4.30M430.59,169.00v-4.30M435.96,169.00v-4.30M442.52,169.00v-4.30M447.29,169.00v-4.30M447.88,169.00v-4.30M448.48,169.00v-4.30M449.67,169.00v-4.30M458.62,169.00v-4.30M461.00,169.00v-4.30" stroke="#2f6a4f" stroke-width="0.60" stroke-opacity="1.00" fill="none"/>
<path d="M304.80,193.70 C306.72,192.08 311.65,186.72 316.30,184.00 C320.95,181.28 327.25,178.50 332.70,177.40 C338.15,176.30 343.55,177.13 349.00,177.40 C354.45,177.67 357.23,178.18 365.40,179.00 C373.57,179.82 389.30,181.87 398.00,182.30 C406.70,182.73 411.05,181.32 417.60,181.60 C424.15,181.88 431.30,182.63 437.30,184.00 C443.30,185.37 449.65,187.90 453.60,189.80 C457.55,191.70 459.77,194.47 461.00,195.40 L461.00,207.00 L304.80,207.00 Z" fill="#b2a28e" fill-opacity="1.00" stroke="none"/>
<path d="M304.80,193.70 C306.72,192.08 311.65,186.72 316.30,184.00 C320.95,181.28 327.25,178.50 332.70,177.40 C338.15,176.30 343.55,177.13 349.00,177.40 C354.45,177.67 357.23,178.18 365.40,179.00 C373.57,179.82 389.30,181.87 398.00,182.30 C406.70,182.73 411.05,181.32 417.60,181.60 C424.15,181.88 431.30,182.63 437.30,184.00 C443.30,185.37 449.65,187.90 453.60,189.80 C457.55,191.70 459.77,194.47 461.00,195.40" fill="none" stroke="#7a5a3a" stroke-width="0.90"/>
<path d="M305.40,207.00v-4.30M306.59,207.00v-4.30M307.18,207.00v-4.30M307.78,207.00v-4.30M308.38,207.00v-4.30M308.97,207.00v-4.30M310.17,207.00v-4.30M310.76,207.00v-4.30M311.36,207.00v-4.30M311.95,207.00v-4.30M312.55,207.00v-4.30M313.15,207.00v-4.30M313.74,207.00v-4.30M314.94,207.00v-4.30M315.53,207.00v-4.30M316.13,207.00v-4.30M316.72,207.00v-4.30M317.32,207.00v-4.30M317.92,207.00v-4.30M318.51,207.00v-4.30M319.70,207.00v-4.30M320.30,207.00v-4.30M320.90,207.00v-4.30M321.49,207.00v-4.30M322.69,207.00v-4.30M323.28,207.00v-4.30M323.88,207.00v-4.30M324.47,207.00v-4.30M325.07,207.00v-4.30M325.67,207.00v-4.30M326.86,207.00v-4.30M328.05,207.00v-4.30M328.65,207.00v-4.30M329.24,207.00v-4.30M329.84,207.00v-4.30M330.44,207.00v-4.30M331.03,207.00v-4.30M331.63,207.00v-4.30M332.22,207.00v-4.30M332.82,207.00v-4.30M333.42,207.00v-4.30M334.01,207.00v-4.30M334.61,207.00v-4.30M335.21,207.00v-4.30M335.80,207.00v-4.30M336.40,207.00v-4.30M336.99,207.00v-4.30M337.59,207.00v-4.30M338.19,207.00v-4.30M338.78,207.00v-4.30M339.38,207.00v-4.30M339.97,207.00v-4.30M340.57,207.00v-4.30M341.17,207.00v-4.30M342.36,207.00v-4.30M342.96,207.00v-4.30M343.55,207.00v-4.30M344.15,207.00v-4.30M345.94,207.00v-4.30M346.53,207.00v-4.30M347.13,207.00v-4.30M347.73,207.00v-4.30M348.32,207.00v-4.30M348.92,207.00v-4.30M349.51,207.00v-4.30M350.11,207.00v-4.30M350.71,207.00v-4.30M351.30,207.00v-4.30M351.90,207.00v-4.30M353.09,207.00v-4.30M353.69,207.00v-4.30M354.88,207.00v-4.30M357.26,207.00v-4.30M357.86,207.00v-4.30M358.46,207.00v-4.30M359.05,207.00v-4.30M359.65,207.00v-4.30M360.84,207.00v-4.30M361.44,207.00v-4.30M362.63,207.00v-4.30M363.23,207.00v-4.30M363.82,207.00v-4.30M364.42,207.00v-4.30M365.01,207.00v-4.30M365.61,207.00v-4.30M366.21,207.00v-4.30M368.59,207.00v-4.30M369.19,207.00v-4.30M369.78,207.00v-4.30M370.38,207.00v-4.30M370.98,207.00v-4.30M371.57,207.00v-4.30M372.76,207.00v-4.30M373.96,207.00v-4.30M374.55,207.00v-4.30M375.15,207.00v-4.30M375.75,207.00v-4.30M376.34,207.00v-4.30M377.53,207.00v-4.30M378.13,207.00v-4.30M378.73,207.00v-4.30M379.32,207.00v-4.30M379.92,207.00v-4.30M380.52,207.00v-4.30M381.11,207.00v-4.30M383.50,207.00v-4.30M384.69,207.00v-4.30M385.28,207.00v-4.30M385.88,207.00v-4.30M386.48,207.00v-4.30M387.07,207.00v-4.30M387.67,207.00v-4.30M389.46,207.00v-4.30M390.05,207.00v-4.30M392.44,207.00v-4.30M393.63,207.00v-4.30M394.23,207.00v-4.30M394.82,207.00v-4.30M395.42,207.00v-4.30M396.02,207.00v-4.30M397.21,207.00v-4.30M398.40,207.00v-4.30M399.00,207.00v-4.30M400.19,207.00v-4.30M400.79,207.00v-4.30M401.38,207.00v-4.30M401.98,207.00v-4.30M402.57,207.00v-4.30M403.17,207.00v-4.30M403.77,207.00v-4.30M404.36,207.00v-4.30M404.96,207.00v-4.30M405.55,207.00v-4.30M407.34,207.00v-4.30M408.54,207.00v-4.30M409.13,207.00v-4.30M413.31,207.00v-4.30M414.50,207.00v-4.30M415.69,207.00v-4.30M416.29,207.00v-4.30M416.88,207.00v-4.30M417.48,207.00v-4.30M418.07,207.00v-4.30M418.67,207.00v-4.30M421.06,207.00v-4.30M421.65,207.00v-4.30M422.25,207.00v-4.30M422.84,207.00v-4.30M424.63,207.00v-4.30M425.23,207.00v-4.30M426.42,207.00v-4.30M427.02,207.00v-4.30M427.61,207.00v-4.30M428.81,207.00v-4.30M429.40,207.00v-4.30M430.00,207.00v-4.30M431.19,207.00v-4.30M431.79,207.00v-4.30M432.38,207.00v-4.30M432.98,207.00v-4.30M433.58,207.00v-4.30M434.17,207.00v-4.30M434.77,207.00v-4.30M435.36,207.00v-4.30M436.56,207.00v-4.30M437.15,207.00v-4.30M437.75,207.00v-4.30M438.35,207.00v-4.30M438.94,207.00v-4.30M439.54,207.00v-4.30M440.13,207.00v-4.30M440.73,207.00v-4.30M441.33,207.00v-4.30M443.71,207.00v-4.30M444.31,207.00v-4.30M444.90,207.00v-4.30M445.50,207.00v-4.30M446.10,207.00v-4.30M446.69,207.00v-4.30M450.27,207.00v-4.30M451.46,207.00v-4.30M452.65,207.00v-4.30M453.25,207.00v-4.30M453.85,207.00v-4.30M454.44,207.00v-4.30M455.04,207.00v-4.30M455.63,207.00v-4.30M456.23,207.00v-4.30M457.42,207.00v-4.30M458.02,207.00v-4.30M459.81,207.00v-4.30M460.40,207.00v-4.30" stroke="#5c3c1c" stroke-width="0.60" stroke-opacity="1.00" fill="none"/>
<path d="M304.80,229.50 C306.50,228.80 311.17,226.28 315.00,225.30 C318.83,224.32 323.63,223.65 327.80,223.60 C331.97,223.55 335.92,224.18 340.00,225.00 C344.08,225.82 348.07,227.37 352.30,228.50 C356.53,229.63 360.50,230.82 365.40,231.80 C370.30,232.78 374.63,233.80 381.70,234.40 C388.77,235.00 399.63,235.13 407.80,235.40 C415.97,235.67 424.17,235.62 430.70,236.00 C437.23,236.38 441.95,236.98 447.00,237.70 C452.05,238.42 458.67,239.87 461.00,240.30 L461.00,244.40 L304.80,244.40 Z" fill="#d4d4d4" stroke="none"/>
<path d="M304.80,241.00 C308.33,240.28 318.63,238.62 326.00,236.70 C333.37,234.78 342.43,231.40 349.00,229.50 C355.57,227.60 360.50,226.55 365.40,225.30 C370.30,224.05 372.97,222.50 378.40,222.00 C383.83,221.50 389.28,222.25 398.00,222.30 C406.72,222.35 423.07,222.02 430.70,222.30 C438.33,222.58 439.98,222.97 443.80,224.00 C447.62,225.03 450.73,226.87 453.60,228.50 C456.47,230.13 459.77,232.92 461.00,233.80 L461.00,244.40 L304.80,244.40 Z" fill="#b09be0" fill-opacity="0.3" stroke="none"/>
<path d="M304.80,241.00 C308.33,240.28 318.63,238.62 326.00,236.70 C333.37,234.78 342.43,231.40 349.00,229.50 C355.57,227.60 360.50,226.55 365.40,225.30 C370.30,224.05 372.97,222.50 378.40,222.00 C383.83,221.50 389.28,222.25 398.00,222.30 C406.72,222.35 423.07,222.02 430.70,222.30 C438.33,222.58 439.98,222.97 443.80,224.00 C447.62,225.03 450.73,226.87 453.60,228.50 C456.47,230.13 459.77,232.92 461.00,233.80" fill="none" stroke="#7a66cc" stroke-width="0.9"/>
<path d="M304.80,229.50 C306.50,228.80 311.17,226.28 315.00,225.30 C318.83,224.32 323.63,223.65 327.80,223.60 C331.97,223.55 335.92,224.18 340.00,225.00 C344.08,225.82 348.07,227.37 352.30,228.50 C356.53,229.63 360.50,230.82 365.40,231.80 C370.30,232.78 374.63,233.80 381.70,234.40 C388.77,235.00 399.63,235.13 407.80,235.40 C415.97,235.67 424.17,235.62 430.70,236.00 C437.23,236.38 441.95,236.98 447.00,237.70 C452.05,238.42 458.67,239.87 461.00,240.30" fill="none" stroke="#383838" stroke-width="1.10"/>
<path d="M304.80,244.10v-2.0M305.40,244.10v-2.0M305.99,244.10v-2.0M306.59,244.10v-2.0M307.18,244.10v-2.0M307.78,244.10v-2.0M308.38,244.10v-2.0M308.97,244.10v-2.0M309.57,244.10v-2.0M310.17,244.10v-2.0M310.76,244.10v-2.0M311.36,244.10v-2.0M311.95,244.10v-2.0M312.55,244.10v-2.0M314.34,244.10v-2.0M314.94,244.10v-2.0M315.53,244.10v-2.0M316.72,244.10v-2.0M317.32,244.10v-2.0M317.92,244.10v-2.0M318.51,244.10v-2.0M319.11,244.10v-2.0M320.30,244.10v-2.0M321.49,244.10v-2.0M322.09,244.10v-2.0M322.69,244.10v-2.0M323.28,244.10v-2.0M323.88,244.10v-2.0M325.07,244.10v-2.0M325.67,244.10v-2.0M326.26,244.10v-2.0M329.24,244.10v-2.0M329.84,244.10v-2.0M330.44,244.10v-2.0M331.03,244.10v-2.0M331.63,244.10v-2.0M332.22,244.10v-2.0M333.42,244.10v-2.0M334.01,244.10v-2.0M334.61,244.10v-2.0M335.21,244.10v-2.0M335.80,244.10v-2.0M336.40,244.10v-2.0M337.59,244.10v-2.0M338.78,244.10v-2.0M340.57,244.10v-2.0M341.17,244.10v-2.0M342.36,244.10v-2.0M342.96,244.10v-2.0M343.55,244.10v-2.0M344.74,244.10v-2.0M345.94,244.10v-2.0M346.53,244.10v-2.0M350.71,244.10v-2.0M351.30,244.10v-2.0M352.49,244.10v-2.0M354.88,244.10v-2.0M359.65,244.10v-2.0M360.84,244.10v-2.0M362.63,244.10v-2.0M363.23,244.10v-2.0M365.01,244.10v-2.0M366.21,244.10v-2.0M366.80,244.10v-2.0M369.19,244.10v-2.0M370.38,244.10v-2.0M372.17,244.10v-2.0M372.76,244.10v-2.0M373.96,244.10v-2.0M375.15,244.10v-2.0M376.34,244.10v-2.0M378.13,244.10v-2.0M378.73,244.10v-2.0M387.67,244.10v-2.0M391.84,244.10v-2.0M398.40,244.10v-2.0M401.98,244.10v-2.0M403.17,244.10v-2.0M403.77,244.10v-2.0M404.36,244.10v-2.0M406.75,244.10v-2.0M409.13,244.10v-2.0M411.52,244.10v-2.0M415.69,244.10v-2.0M417.48,244.10v-2.0M418.67,244.10v-2.0M419.27,244.10v-2.0M420.46,244.10v-2.0M421.65,244.10v-2.0M422.25,244.10v-2.0M425.83,244.10v-2.0M430.59,244.10v-2.0M431.19,244.10v-2.0M431.79,244.10v-2.0M432.98,244.10v-2.0M436.56,244.10v-2.0M437.75,244.10v-2.0M441.92,244.10v-2.0M443.71,244.10v-2.0M446.10,244.10v-2.0M447.29,244.10v-2.0M448.48,244.10v-2.0M449.08,244.10v-2.0M456.23,244.10v-2.0" stroke="#262626" stroke-width="0.60" stroke-opacity="0.55"/>
<path d="M313.15,244.10v-2.0M313.74,244.10v-2.0M316.13,244.10v-2.0M319.70,244.10v-2.0M320.90,244.10v-2.0M324.47,244.10v-2.0M326.86,244.10v-2.0M327.45,244.10v-2.0M328.05,244.10v-2.0M328.65,244.10v-2.0M332.82,244.10v-2.0M336.99,244.10v-2.0M338.19,244.10v-2.0M339.38,244.10v-2.0M339.97,244.10v-2.0M341.76,244.10v-2.0M344.15,244.10v-2.0M345.34,244.10v-2.0M347.13,244.10v-2.0M347.73,244.10v-2.0M348.32,244.10v-2.0M348.92,244.10v-2.0M349.51,244.10v-2.0M350.11,244.10v-2.0M351.90,244.10v-2.0M353.09,244.10v-2.0M353.69,244.10v-2.0M354.28,244.10v-2.0M355.48,244.10v-2.0M356.07,244.10v-2.0M356.67,244.10v-2.0M357.26,244.10v-2.0M357.86,244.10v-2.0M358.46,244.10v-2.0M359.05,244.10v-2.0M360.25,244.10v-2.0M361.44,244.10v-2.0M362.03,244.10v-2.0M363.82,244.10v-2.0M364.42,244.10v-2.0M365.61,244.10v-2.0M367.40,244.10v-2.0M368.00,244.10v-2.0M368.59,244.10v-2.0M369.78,244.10v-2.0M370.98,244.10v-2.0M371.57,244.10v-2.0M373.36,244.10v-2.0M374.55,244.10v-2.0M375.75,244.10v-2.0M376.94,244.10v-2.0M377.53,244.10v-2.0M379.32,244.10v-2.0M379.92,244.10v-2.0M380.52,244.10v-2.0M381.11,244.10v-2.0M381.71,244.10v-2.0M382.30,244.10v-2.0M382.90,244.10v-2.0M383.50,244.10v-2.0M384.09,244.10v-2.0M384.69,244.10v-2.0M385.28,244.10v-2.0M385.88,244.10v-2.0M386.48,244.10v-2.0M387.07,244.10v-2.0M388.27,244.10v-2.0M388.86,244.10v-2.0M389.46,244.10v-2.0M390.05,244.10v-2.0M390.65,244.10v-2.0M391.25,244.10v-2.0M392.44,244.10v-2.0M393.04,244.10v-2.0M393.63,244.10v-2.0M394.23,244.10v-2.0M394.82,244.10v-2.0M395.42,244.10v-2.0M396.02,244.10v-2.0M396.61,244.10v-2.0M397.21,244.10v-2.0M397.80,244.10v-2.0M399.00,244.10v-2.0M399.59,244.10v-2.0M400.19,244.10v-2.0M400.79,244.10v-2.0M401.38,244.10v-2.0M402.57,244.10v-2.0M404.96,244.10v-2.0M405.55,244.10v-2.0M406.15,244.10v-2.0M407.34,244.10v-2.0M407.94,244.10v-2.0M408.54,244.10v-2.0M409.73,244.10v-2.0M410.32,244.10v-2.0M410.92,244.10v-2.0M412.11,244.10v-2.0M412.71,244.10v-2.0M413.31,244.10v-2.0M413.90,244.10v-2.0M414.50,244.10v-2.0M415.09,244.10v-2.0M416.29,244.10v-2.0M416.88,244.10v-2.0M418.07,244.10v-2.0M419.86,244.10v-2.0M421.06,244.10v-2.0M422.84,244.10v-2.0M423.44,244.10v-2.0M424.04,244.10v-2.0M424.63,244.10v-2.0M425.23,244.10v-2.0M426.42,244.10v-2.0M427.02,244.10v-2.0M427.61,244.10v-2.0M428.21,244.10v-2.0M428.81,244.10v-2.0M429.40,244.10v-2.0M430.00,244.10v-2.0M432.38,244.10v-2.0M433.58,244.10v-2.0M434.17,244.10v-2.0M434.77,244.10v-2.0M435.36,244.10v-2.0M435.96,244.10v-2.0M437.15,244.10v-2.0M438.35,244.10v-2.0M438.94,244.10v-2.0M439.54,244.10v-2.0M440.13,244.10v-2.0M440.73,244.10v-2.0M441.33,244.10v-2.0M442.52,244.10v-2.0M443.11,244.10v-2.0M444.31,244.10v-2.0M444.90,244.10v-2.0M445.50,244.10v-2.0M446.69,244.10v-2.0M447.88,244.10v-2.0M449.67,244.10v-2.0M450.27,244.10v-2.0M450.86,244.10v-2.0M451.46,244.10v-2.0M452.06,244.10v-2.0M452.65,244.10v-2.0M453.25,244.10v-2.0M453.85,244.10v-2.0M454.44,244.10v-2.0M455.04,244.10v-2.0M455.63,244.10v-2.0M456.83,244.10v-2.0M457.42,244.10v-2.0M458.02,244.10v-2.0M458.62,244.10v-2.0M459.21,244.10v-2.0M459.81,244.10v-2.0M460.40,244.10v-2.0M461.00,244.10v-2.0" stroke="#7462c4" stroke-width="0.60" stroke-opacity="0.55"/>
<rect x="304.80" y="246.00" width="156.20" height="25.00" fill="url(#g0_2)"/>
<line x1="304.80" x2="461.00" y1="93.50" y2="93.50" stroke="#999" stroke-width="1.00"/>
<line x1="304.80" x2="461.00" y1="131.50" y2="131.50" stroke="#999" stroke-width="1.00"/>
<line x1="304.80" x2="461.00" y1="169.50" y2="169.50" stroke="#999" stroke-width="1.00"/>
<line x1="304.80" x2="461.00" y1="207.60" y2="207.60" stroke="#c8c8c8" stroke-width="1"/>
<line x1="304.80" x2="461.00" y1="209.30" y2="209.30" stroke="#bdbdbd" stroke-width="0.8"/>
<line x1="304.80" x2="461.00" y1="244.40" y2="244.40" stroke="#8c8c8c" stroke-width="0.8"/>
<line x1="304.80" x2="304.80" y1="55.40" y2="207.00" stroke="#c4c4c4" stroke-width="0.8"/>
<line x1="304.80" x2="304.80" y1="209.30" y2="244.40" stroke="#c4c4c4" stroke-width="0.8"/>
<line x1="461.00" x2="461.00" y1="55.40" y2="207.00" stroke="#c4c4c4" stroke-width="0.8"/>
<line x1="461.00" x2="461.00" y1="209.30" y2="244.40" stroke="#c4c4c4" stroke-width="0.8"/>
<line x1="362.50" x2="362.50" y1="55.40" y2="272.00" stroke="#383838" stroke-width="1.0" stroke-dasharray="2.4,2.1" stroke-dashoffset="2.900"/>
<line x1="304.80" x2="304.80" y1="271.00" y2="273.80" stroke="#444" stroke-width="0.7"/>
<text x="304.80" y="283.60" font-size="6.80" text-anchor="middle" font-weight="normal" font-style="normal" fill="#1e1e1e" stroke="#1e1e1e" stroke-width="0.28">1</text>
<line x1="343.55" x2="343.55" y1="271.00" y2="273.80" stroke="#444" stroke-width="0.7"/>
<text x="343.55" y="283.60" font-size="6.80" text-anchor="middle" font-weight="normal" font-style="normal" fill="#1e1e1e" stroke="#1e1e1e" stroke-width="0.28">66</text>
<line x1="382.90" x2="382.90" y1="271.00" y2="273.80" stroke="#444" stroke-width="0.7"/>
<text x="382.90" y="283.60" font-size="6.80" text-anchor="middle" font-weight="normal" font-style="normal" fill="#1e1e1e" stroke="#1e1e1e" stroke-width="0.28">132</text>
<line x1="421.65" x2="421.65" y1="271.00" y2="273.80" stroke="#444" stroke-width="0.7"/>
<text x="421.65" y="283.60" font-size="6.80" text-anchor="middle" font-weight="normal" font-style="normal" fill="#1e1e1e" stroke="#1e1e1e" stroke-width="0.28">197</text>
<line x1="461.00" x2="461.00" y1="271.00" y2="273.80" stroke="#444" stroke-width="0.7"/>
<text x="461.00" y="283.60" font-size="6.80" text-anchor="middle" font-weight="normal" font-style="normal" fill="#1e1e1e" stroke="#1e1e1e" stroke-width="0.28">263</text>
<text x="382.90" y="295.90" font-size="8.40" text-anchor="middle" font-weight="normal" font-style="normal" fill="#1e1e1e" textLength="37.20" lengthAdjust="spacingAndGlyphs" stroke="#1e1e1e" stroke-width="0.28">ABC tumors</text>
<text x="382.90" y="306.00" font-size="8.40" text-anchor="middle" font-weight="normal" font-style="normal" fill="#1e1e1e" textLength="30.80" lengthAdjust="spacingAndGlyphs" stroke="#1e1e1e" stroke-width="0.28">(n = 263)</text>
<rect x="461.00" y="55.00" width="7.20" height="38.00" fill="#fff" stroke="#bbb" stroke-width="0.7"/>
<line x1="461.00" x2="461.00" y1="55.00" y2="93.00" stroke="#777" stroke-width="0.9"/>
<text x="0" y="0" font-size="6.9" font-weight="bold" fill="#111" stroke="#111" stroke-width="0.2" text-anchor="middle" transform="translate(462.50,74.00) rotate(90)">Tr</text>
<rect x="461.00" y="93.00" width="7.20" height="38.00" fill="#fff" stroke="#bbb" stroke-width="0.7"/>
<line x1="461.00" x2="461.00" y1="93.00" y2="131.00" stroke="#777" stroke-width="0.9"/>
<text x="0" y="0" font-size="6.9" font-weight="bold" fill="#111" stroke="#111" stroke-width="0.2" text-anchor="middle" transform="translate(462.50,112.00) rotate(90)">Gain+</text>
<rect x="461.00" y="131.00" width="7.20" height="38.00" fill="#fff" stroke="#bbb" stroke-width="0.7"/>
<line x1="461.00" x2="461.00" y1="131.00" y2="169.00" stroke="#777" stroke-width="0.9"/>
<text x="0" y="0" font-size="6.9" font-weight="bold" fill="#111" stroke="#111" stroke-width="0.2" text-anchor="middle" transform="translate(462.50,150.00) rotate(90)">Gain</text>
<rect x="461.00" y="169.00" width="7.20" height="38.00" fill="#fff" stroke="#bbb" stroke-width="0.7"/>
<line x1="461.00" x2="461.00" y1="169.00" y2="207.00" stroke="#777" stroke-width="0.9"/>
<text x="0" y="0" font-size="6.9" font-weight="bold" fill="#111" stroke="#111" stroke-width="0.2" text-anchor="middle" transform="translate(462.50,188.00) rotate(90)">Normal</text>
<rect x="461.00" y="209.30" width="7.20" height="35.10" fill="#fff" stroke="#bbb" stroke-width="0.7"/>
<line x1="461.00" x2="461.00" y1="209.30" y2="244.40" stroke="#777" stroke-width="0.9"/>
<text x="0" y="0" font-size="6.9" font-weight="bold" fill="#111" stroke="#111" stroke-width="0.2" text-anchor="middle" transform="translate(462.50,226.85) rotate(90)">IHC</text>
<rect x="461.00" y="246.00" width="7.20" height="25.00" fill="#fff" stroke="#bbb" stroke-width="0.7"/>
<line x1="461.00" x2="461.00" y1="246.00" y2="271.00" stroke="#777" stroke-width="0.9"/>
<text x="0" y="0" font-size="6.9" font-weight="bold" fill="#111" stroke="#111" stroke-width="0.2" text-anchor="middle" textLength="19.7" lengthAdjust="spacingAndGlyphs" transform="translate(462.50,258.50) rotate(90)">mRNA</text>
<text x="476.00" y="115.10" font-size="5.5" font-weight="bold" fill="#111" stroke="#111" stroke-width="0.18"><tspan font-style="italic">MYC</tspan> FISH</text>
<rect x="476.40" y="120.40" width="6.6" height="6.4" fill="#a990bb" fill-opacity="0.90" stroke="#6b3f88" stroke-width="0.8"/>
<text x="486.00" y="125.30" font-size="5.70" text-anchor="start" font-weight="normal" font-style="normal" fill="#4a4a4a" >Tr</text>
<rect x="476.40" y="130.60" width="6.6" height="6.4" fill="#97a9c4" fill-opacity="0.90" stroke="#3e5f98" stroke-width="0.8"/>
<text x="486.00" y="135.50" font-size="5.70" text-anchor="start" font-weight="normal" font-style="normal" fill="#4a4a4a" >Gain+</text>
<rect x="476.40" y="141.00" width="6.6" height="6.4" fill="#97b3a9" fill-opacity="0.90" stroke="#4b8a6d" stroke-width="0.8"/>
<text x="486.00" y="145.90" font-size="5.70" text-anchor="start" font-weight="normal" font-style="normal" fill="#4a4a4a" >Gain</text>
<rect x="476.40" y="151.40" width="6.6" height="6.4" fill="#b2a28e" fill-opacity="0.90" stroke="#7a5a3a" stroke-width="0.8"/>
<text x="486.00" y="156.30" font-size="5.70" text-anchor="start" font-weight="normal" font-style="normal" fill="#4a4a4a" >Normal</text>
<text x="476.00" y="182.70" font-size="5.5" font-weight="bold" fill="#111" stroke="#111" stroke-width="0.18">MYC IHC</text>
<rect x="476.40" y="187.40" width="6.6" height="6.4" fill="#ebe6f7" fill-opacity="1.00" stroke="#9d8fdc" stroke-width="0.8"/>
<text x="486.00" y="192.30" font-size="5.70" text-anchor="start" font-weight="normal" font-style="normal" fill="#4a4a4a" >Pos</text>
<rect x="476.40" y="197.60" width="6.6" height="6.4" fill="#d3d0c9" fill-opacity="1.00" stroke="#555" stroke-width="0.8"/>
<text x="486.00" y="202.50" font-size="5.70" text-anchor="start" font-weight="normal" font-style="normal" fill="#4a4a4a" >Neg</text>
<text x="476.00" y="225.90" font-size="5.5" font-weight="bold" fill="#111" stroke="#111" stroke-width="0.18"><tspan font-style="italic">MYC</tspan> mRNA</text>
<text x="476.00" y="232.30" font-size="5.70" text-anchor="start" font-weight="normal" font-style="normal" fill="#4a4a4a" >log2(zscore)</text>
<rect x="476.9" y="235.50" width="7" height="35.40" fill="url(#leg0)"/>
<text x="489.30" y="247.10" font-size="6.00" text-anchor="middle" font-weight="normal" font-style="normal" fill="#333" >2</text>
<text x="489.30" y="256.80" font-size="6.00" text-anchor="middle" font-weight="normal" font-style="normal" fill="#333" >0</text>
<text x="489.30" y="266.50" font-size="6.00" text-anchor="middle" font-weight="normal" font-style="normal" fill="#333" >-2</text>
<rect x="20.00" y="349.50" width="493.50" height="293.00" fill="none" stroke="#111" stroke-width="1.05"/>
<text x="7.60" y="345.80" font-size="11.80" text-anchor="start" font-weight="bold" font-style="normal" fill="#000" stroke="#000" stroke-width="0.3">B</text>
<text x="28.60" y="365.70" font-size="9.30" text-anchor="start" font-weight="normal" font-style="italic" fill="#1a1a1a" textLength="20.00" lengthAdjust="spacingAndGlyphs" stroke="#1a1a1a" stroke-width="0.12">BCL2</text>
<rect x="28.00" y="370.50" width="89.50" height="10.40" fill="#a61b2e"/>
<rect x="28.00" y="380.00" width="89.50" height="0.9" fill="#8a1424"/>
<rect x="28.00" y="370.50" width="89.50" height="0.4" fill="#8a1424" fill-opacity="0.5"/>
<text x="72.75" y="377.90" font-size="6.60" text-anchor="middle" font-weight="normal" font-style="normal" fill="#fff" stroke="#fff" stroke-width="0.2">DHITsig+</text>
<path d="M28.00,418.20 C29.48,417.28 34.00,415.03 36.90,412.70 C39.80,410.37 42.58,407.20 45.40,404.20 C48.22,401.20 51.33,397.52 53.80,394.70 C56.27,391.88 57.72,389.25 60.20,387.30 C62.68,385.35 66.23,383.88 68.70,383.00 C71.17,382.12 71.83,381.92 75.00,382.00 C78.17,382.08 83.82,382.62 87.70,383.50 C91.58,384.38 95.13,385.43 98.30,387.30 C101.47,389.17 104.25,392.05 106.70,394.70 C109.15,397.35 111.20,400.98 113.00,403.20 C114.80,405.42 116.75,407.20 117.50,408.00 L117.50,418.50 L28.00,418.50 Z" fill="#a990bb" fill-opacity="0.95" stroke="none"/>
<path d="M28.00,418.20 C29.48,417.28 34.00,415.03 36.90,412.70 C39.80,410.37 42.58,407.20 45.40,404.20 C48.22,401.20 51.33,397.52 53.80,394.70 C56.27,391.88 57.72,389.25 60.20,387.30 C62.68,385.35 66.23,383.88 68.70,383.00 C71.17,382.12 71.83,381.92 75.00,382.00 C78.17,382.08 83.82,382.62 87.70,383.50 C91.58,384.38 95.13,385.43 98.30,387.30 C101.47,389.17 104.25,392.05 106.70,394.70 C109.15,397.35 111.20,400.98 113.00,403.20 C114.80,405.42 116.75,407.20 117.50,408.00" fill="none" stroke="#6b3f88" stroke-width="0.90"/>
<path d="M35.51,418.50v-4.30M38.01,418.50v-4.30M39.27,418.50v-4.30M39.89,418.50v-4.30M43.02,418.50v-4.30M46.15,418.50v-4.30M48.03,418.50v-4.30M48.65,418.50v-4.30M50.53,418.50v-4.30M51.16,418.50v-4.30M53.03,418.50v-4.30M54.29,418.50v-4.30M55.54,418.50v-4.30M56.16,418.50v-4.30M57.42,418.50v-4.30M58.04,418.50v-4.30M59.29,418.50v-4.30M59.92,418.50v-4.30M60.55,418.50v-4.30M61.17,418.50v-4.30M61.80,418.50v-4.30M63.05,418.50v-4.30M63.67,418.50v-4.30M64.30,418.50v-4.30M64.93,418.50v-4.30M65.55,418.50v-4.30M66.18,418.50v-4.30M66.80,418.50v-4.30M67.43,418.50v-4.30M68.06,418.50v-4.30M68.68,418.50v-4.30M69.31,418.50v-4.30M69.93,418.50v-4.30M70.56,418.50v-4.30M71.19,418.50v-4.30M71.81,418.50v-4.30M72.44,418.50v-4.30M73.06,418.50v-4.30M73.69,418.50v-4.30M74.31,418.50v-4.30M74.94,418.50v-4.30M75.57,418.50v-4.30M76.19,418.50v-4.30M76.82,418.50v-4.30M78.07,418.50v-4.30M78.70,418.50v-4.30M79.32,418.50v-4.30M79.95,418.50v-4.30M80.57,418.50v-4.30M81.20,418.50v-4.30M81.83,418.50v-4.30M82.45,418.50v-4.30M83.08,418.50v-4.30M83.70,418.50v-4.30M84.95,418.50v-4.30M85.58,418.50v-4.30M86.21,418.50v-4.30M86.83,418.50v-4.30M87.46,418.50v-4.30M88.08,418.50v-4.30M88.71,418.50v-4.30M89.34,418.50v-4.30M89.96,418.50v-4.30M90.59,418.50v-4.30M91.21,418.50v-4.30M92.47,418.50v-4.30M93.09,418.50v-4.30M94.34,418.50v-4.30M94.97,418.50v-4.30M95.59,418.50v-4.30M96.22,418.50v-4.30M96.85,418.50v-4.30M97.47,418.50v-4.30M98.72,418.50v-4.30M99.35,418.50v-4.30M99.98,418.50v-4.30M100.60,418.50v-4.30M101.23,418.50v-4.30M101.85,418.50v-4.30M102.48,418.50v-4.30M103.10,418.50v-4.30M104.36,418.50v-4.30M104.98,418.50v-4.30M105.61,418.50v-4.30M106.86,418.50v-4.30M107.49,418.50v-4.30M108.11,418.50v-4.30M109.99,418.50v-4.30M112.49,418.50v-4.30M113.74,418.50v-4.30M114.37,418.50v-4.30M115.62,418.50v-4.30M116.87,418.50v-4.30M117.50,418.50v-4.30" stroke="#5a2a78" stroke-width="0.63" stroke-opacity="1.00" fill="none"/>
<path d="M99.00,456.50 C99.33,456.25 100.33,455.75 101.00,455.00 C101.67,454.25 102.33,452.07 103.00,452.00 C103.67,451.93 104.17,455.35 105.00,454.60 C105.83,453.85 106.67,450.05 108.00,447.50 C109.33,444.95 111.42,439.25 113.00,439.30 C114.58,439.35 116.75,446.38 117.50,447.80 L117.50,456.50 L99.00,456.50 Z" fill="#97a9c4" fill-opacity="1.00" stroke="none"/>
<path d="M99.00,456.50 C99.33,456.25 100.33,455.75 101.00,455.00 C101.67,454.25 102.33,452.07 103.00,452.00 C103.67,451.93 104.17,455.35 105.00,454.60 C105.83,453.85 106.67,450.05 108.00,447.50 C109.33,444.95 111.42,439.25 113.00,439.30 C114.58,439.35 116.75,446.38 117.50,447.80" fill="none" stroke="#3e5f98" stroke-width="0.90"/>
<path d="M108.74,456.50v-4.30M110.62,456.50v-4.30M113.12,456.50v-4.30M115.00,456.50v-4.30M116.25,456.50v-4.30" stroke="#36558f" stroke-width="0.63" stroke-opacity="1.00" fill="none"/>
<path d="M28.00,491.50 C29.63,490.95 34.47,488.53 37.80,488.20 C41.13,487.87 44.97,488.73 48.00,489.50 C51.03,490.27 53.43,492.00 56.00,492.80 C58.57,493.60 60.90,494.13 63.40,494.30 C65.90,494.47 68.27,494.05 71.00,493.80 C73.73,493.55 76.80,492.90 79.80,492.80 C82.80,492.70 86.25,493.20 89.00,493.20 C91.75,493.20 93.57,492.65 96.30,492.80 C99.03,492.95 101.87,493.83 105.40,494.10 C108.93,494.37 115.48,494.35 117.50,494.40 L117.50,494.50 L28.00,494.50 Z" fill="#97b3a9" fill-opacity="1.00" stroke="none"/>
<path d="M28.00,491.50 C29.63,490.95 34.47,488.53 37.80,488.20 C41.13,487.87 44.97,488.73 48.00,489.50 C51.03,490.27 53.43,492.00 56.00,492.80 C58.57,493.60 60.90,494.13 63.40,494.30 C65.90,494.47 68.27,494.05 71.00,493.80 C73.73,493.55 76.80,492.90 79.80,492.80 C82.80,492.70 86.25,493.20 89.00,493.20 C91.75,493.20 93.57,492.65 96.30,492.80 C99.03,492.95 101.87,493.83 105.40,494.10 C108.93,494.37 115.48,494.35 117.50,494.40" fill="none" stroke="#4b8a6d" stroke-width="0.90"/>
<path d="M28.63,494.50v-4.30M29.25,494.50v-4.30M33.01,494.50v-4.30M36.14,494.50v-4.30M42.40,494.50v-4.30M43.65,494.50v-4.30M44.27,494.50v-4.30M44.90,494.50v-4.30M46.78,494.50v-4.30M52.41,494.50v-4.30M77.44,494.50v-4.30M84.33,494.50v-4.30M98.10,494.50v-4.30" stroke="#2f6a4f" stroke-width="0.63" stroke-opacity="1.00" fill="none"/>
<path d="M28.00,515.60 C29.33,514.55 33.45,509.90 36.00,509.30 C38.55,508.70 40.87,510.48 43.30,512.00 C45.73,513.52 48.32,516.27 50.60,518.40 C52.88,520.53 54.87,523.03 57.00,524.80 C59.13,526.57 61.12,527.93 63.40,529.00 C65.68,530.07 67.97,530.68 70.70,531.20 C73.43,531.72 76.75,532.17 79.80,532.10 C82.85,532.03 85.95,531.20 89.00,530.80 C92.05,530.40 95.05,530.00 98.10,529.70 C101.15,529.40 104.07,529.05 107.30,529.00 C110.53,528.95 115.80,529.33 117.50,529.40 L117.50,532.50 L28.00,532.50 Z" fill="#b2a28e" fill-opacity="1.00" stroke="none"/>
<path d="M28.00,515.60 C29.33,514.55 33.45,509.90 36.00,509.30 C38.55,508.70 40.87,510.48 43.30,512.00 C45.73,513.52 48.32,516.27 50.60,518.40 C52.88,520.53 54.87,523.03 57.00,524.80 C59.13,526.57 61.12,527.93 63.40,529.00 C65.68,530.07 67.97,530.68 70.70,531.20 C73.43,531.72 76.75,532.17 79.80,532.10 C82.85,532.03 85.95,531.20 89.00,530.80 C92.05,530.40 95.05,530.00 98.10,529.70 C101.15,529.40 104.07,529.05 107.30,529.00 C110.53,528.95 115.80,529.33 117.50,529.40" fill="none" stroke="#7a5a3a" stroke-width="0.90"/>
<path d="M28.00,532.50v-4.30M29.88,532.50v-4.30M30.50,532.50v-4.30M31.13,532.50v-4.30M31.76,532.50v-4.30M32.38,532.50v-4.30M33.63,532.50v-4.30M34.26,532.50v-4.30M34.88,532.50v-4.30M36.76,532.50v-4.30M37.39,532.50v-4.30M38.64,532.50v-4.30M40.52,532.50v-4.30M41.14,532.50v-4.30M41.77,532.50v-4.30M45.52,532.50v-4.30M47.40,532.50v-4.30M49.28,532.50v-4.30M49.91,532.50v-4.30M51.78,532.50v-4.30M53.66,532.50v-4.30M54.91,532.50v-4.30M56.79,532.50v-4.30M58.67,532.50v-4.30M62.42,532.50v-4.30M91.84,532.50v-4.30M93.72,532.50v-4.30M103.73,532.50v-4.30M106.23,532.50v-4.30M109.36,532.50v-4.30M111.24,532.50v-4.30M111.87,532.50v-4.30" stroke="#5c3c1c" stroke-width="0.63" stroke-opacity="1.00" fill="none"/>
<path d="M28.00,551.40 C28.43,550.17 29.63,545.75 30.60,544.00 C31.57,542.25 32.40,540.90 33.80,540.90 C35.20,540.90 37.07,541.88 39.00,544.00 C40.93,546.12 43.28,550.60 45.40,553.60 C47.52,556.60 49.77,559.88 51.70,562.00 C53.63,564.12 54.88,565.17 57.00,566.30 C59.12,567.43 62.10,568.38 64.40,568.80 C66.70,569.22 68.87,568.98 70.80,568.80 C72.73,568.62 74.25,567.58 76.00,567.70 C77.75,567.82 74.38,569.15 81.30,569.50 C88.22,569.85 111.47,569.75 117.50,569.80 L117.50,569.90 L28.00,569.90 Z" fill="#cdcac0" stroke="none"/>
<path d="M28.00,569.00 C29.13,568.18 32.25,566.85 34.80,564.10 C37.35,561.35 40.48,556.02 43.30,552.50 C46.12,548.98 48.88,545.47 51.70,543.00 C54.52,540.53 56.67,538.77 60.20,537.70 C63.73,536.63 69.02,536.95 72.90,536.60 C76.78,536.25 79.98,535.83 83.50,535.60 C87.02,535.37 90.48,535.03 94.00,535.20 C97.52,535.37 101.43,535.13 104.60,536.60 C107.77,538.07 110.85,541.53 113.00,544.00 C115.15,546.47 116.75,550.17 117.50,551.40 L117.50,569.90 L28.00,569.90 Z" fill="#b09be0" fill-opacity="0.3" stroke="none"/>
<path d="M28.00,569.00 C29.13,568.18 32.25,566.85 34.80,564.10 C37.35,561.35 40.48,556.02 43.30,552.50 C46.12,548.98 48.88,545.47 51.70,543.00 C54.52,540.53 56.67,538.77 60.20,537.70 C63.73,536.63 69.02,536.95 72.90,536.60 C76.78,536.25 79.98,535.83 83.50,535.60 C87.02,535.37 90.48,535.03 94.00,535.20 C97.52,535.37 101.43,535.13 104.60,536.60 C107.77,538.07 110.85,541.53 113.00,544.00 C115.15,546.47 116.75,550.17 117.50,551.40" fill="none" stroke="#7a66cc" stroke-width="0.9"/>
<path d="M28.00,551.40 C28.43,550.17 29.63,545.75 30.60,544.00 C31.57,542.25 32.40,540.90 33.80,540.90 C35.20,540.90 37.07,541.88 39.00,544.00 C40.93,546.12 43.28,550.60 45.40,553.60 C47.52,556.60 49.77,559.88 51.70,562.00 C53.63,564.12 54.88,565.17 57.00,566.30 C59.12,567.43 62.10,568.38 64.40,568.80 C66.70,569.22 68.87,568.98 70.80,568.80 C72.73,568.62 74.25,567.58 76.00,567.70 C77.75,567.82 74.38,569.15 81.30,569.50 C88.22,569.85 111.47,569.75 117.50,569.80" fill="none" stroke="#141414" stroke-width="1.40"/>
<path d="M28.00,569.60v-2.0M28.63,569.60v-2.0M29.25,569.60v-2.0M29.88,569.60v-2.0M30.50,569.60v-2.0M31.13,569.60v-2.0M31.76,569.60v-2.0M32.38,569.60v-2.0M33.01,569.60v-2.0M34.88,569.60v-2.0M35.51,569.60v-2.0M36.14,569.60v-2.0M36.76,569.60v-2.0M37.39,569.60v-2.0M38.01,569.60v-2.0M39.89,569.60v-2.0M40.52,569.60v-2.0M43.02,569.60v-2.0M43.65,569.60v-2.0M46.15,569.60v-2.0M46.78,569.60v-2.0M48.65,569.60v-2.0M49.28,569.60v-2.0M51.78,569.60v-2.0M53.03,569.60v-2.0M61.17,569.60v-2.0M83.08,569.60v-2.0M86.21,569.60v-2.0M98.10,569.60v-2.0" stroke="#262626" stroke-width="0.63" stroke-opacity="0.55"/>
<path d="M33.63,569.60v-2.0M34.26,569.60v-2.0M38.64,569.60v-2.0M39.27,569.60v-2.0M41.14,569.60v-2.0M41.77,569.60v-2.0M42.40,569.60v-2.0M44.27,569.60v-2.0M44.90,569.60v-2.0M45.52,569.60v-2.0M47.40,569.60v-2.0M48.03,569.60v-2.0M49.91,569.60v-2.0M50.53,569.60v-2.0M51.16,569.60v-2.0M52.41,569.60v-2.0M53.66,569.60v-2.0M54.29,569.60v-2.0M54.91,569.60v-2.0M55.54,569.60v-2.0M56.16,569.60v-2.0M56.79,569.60v-2.0M57.42,569.60v-2.0M58.04,569.60v-2.0M58.67,569.60v-2.0M59.29,569.60v-2.0M59.92,569.60v-2.0M60.55,569.60v-2.0M61.80,569.60v-2.0M62.42,569.60v-2.0M63.05,569.60v-2.0M63.67,569.60v-2.0M64.30,569.60v-2.0M64.93,569.60v-2.0M65.55,569.60v-2.0M66.18,569.60v-2.0M66.80,569.60v-2.0M67.43,569.60v-2.0M68.06,569.60v-2.0M68.68,569.60v-2.0M69.31,569.60v-2.0M69.93,569.60v-2.0M70.56,569.60v-2.0M71.19,569.60v-2.0M71.81,569.60v-2.0M72.44,569.60v-2.0M73.06,569.60v-2.0M73.69,569.60v-2.0M74.31,569.60v-2.0M74.94,569.60v-2.0M75.57,569.60v-2.0M76.19,569.60v-2.0M76.82,569.60v-2.0M77.44,569.60v-2.0M78.07,569.60v-2.0M78.70,569.60v-2.0M79.32,569.60v-2.0M79.95,569.60v-2.0M80.57,569.60v-2.0M81.20,569.60v-2.0M81.83,569.60v-2.0M82.45,569.60v-2.0M83.70,569.60v-2.0M84.33,569.60v-2.0M84.95,569.60v-2.0M85.58,569.60v-2.0M86.83,569.60v-2.0M87.46,569.60v-2.0M88.08,569.60v-2.0M88.71,569.60v-2.0M89.34,569.60v-2.0M89.96,569.60v-2.0M90.59,569.60v-2.0M91.21,569.60v-2.0M91.84,569.60v-2.0M92.47,569.60v-2.0M93.09,569.60v-2.0M93.72,569.60v-2.0M94.34,569.60v-2.0M94.97,569.60v-2.0M95.59,569.60v-2.0M96.22,569.60v-2.0M96.85,569.60v-2.0M97.47,569.60v-2.0M98.72,569.60v-2.0M99.35,569.60v-2.0M99.98,569.60v-2.0M100.60,569.60v-2.0M101.23,569.60v-2.0M101.85,569.60v-2.0M102.48,569.60v-2.0M103.10,569.60v-2.0M103.73,569.60v-2.0M104.36,569.60v-2.0M104.98,569.60v-2.0M105.61,569.60v-2.0M106.23,569.60v-2.0M106.86,569.60v-2.0M107.49,569.60v-2.0M108.11,569.60v-2.0M108.74,569.60v-2.0M109.36,569.60v-2.0M109.99,569.60v-2.0M110.62,569.60v-2.0M111.24,569.60v-2.0M111.87,569.60v-2.0M112.49,569.60v-2.0M113.12,569.60v-2.0M113.74,569.60v-2.0M114.37,569.60v-2.0M115.00,569.60v-2.0M115.62,569.60v-2.0M116.25,569.60v-2.0M116.87,569.60v-2.0M117.50,569.60v-2.0" stroke="#7462c4" stroke-width="0.63" stroke-opacity="0.55"/>
<rect x="28.00" y="571.50" width="89.50" height="25.00" fill="url(#g325_0)"/>
<line x1="28.00" x2="117.50" y1="419.30" y2="419.30" stroke="#999" stroke-width="1.50"/>
<line x1="28.00" x2="117.50" y1="457.30" y2="457.30" stroke="#999" stroke-width="1.50"/>
<line x1="28.00" x2="117.50" y1="495.30" y2="495.30" stroke="#999" stroke-width="1.50"/>
<line x1="28.00" x2="117.50" y1="533.10" y2="533.10" stroke="#c8c8c8" stroke-width="1"/>
<line x1="28.00" x2="117.50" y1="534.80" y2="534.80" stroke="#bdbdbd" stroke-width="0.8"/>
<line x1="28.00" x2="117.50" y1="569.90" y2="569.90" stroke="#8c8c8c" stroke-width="0.8"/>
<line x1="28.00" x2="28.00" y1="380.90" y2="532.50" stroke="#c4c4c4" stroke-width="0.8"/>
<line x1="28.00" x2="28.00" y1="534.80" y2="569.90" stroke="#c4c4c4" stroke-width="0.8"/>
<line x1="117.50" x2="117.50" y1="380.90" y2="532.50" stroke="#c4c4c4" stroke-width="0.8"/>
<line x1="117.50" x2="117.50" y1="534.80" y2="569.90" stroke="#c4c4c4" stroke-width="0.8"/>
<line x1="56.80" x2="56.80" y1="380.90" y2="597.50" stroke="#383838" stroke-width="1.0" stroke-dasharray="2.4,2.1" stroke-dashoffset="2.700"/>
<line x1="28.00" x2="28.00" y1="596.50" y2="599.30" stroke="#444" stroke-width="0.7"/>
<text x="28.00" y="609.10" font-size="6.80" text-anchor="middle" font-weight="normal" font-style="normal" fill="#1e1e1e" stroke="#1e1e1e" stroke-width="0.28">1</text>
<line x1="49.91" x2="49.91" y1="596.50" y2="599.30" stroke="#444" stroke-width="0.7"/>
<text x="49.91" y="609.10" font-size="6.80" text-anchor="middle" font-weight="normal" font-style="normal" fill="#1e1e1e" stroke="#1e1e1e" stroke-width="0.28">36</text>
<line x1="72.44" x2="72.44" y1="596.50" y2="599.30" stroke="#444" stroke-width="0.7"/>
<text x="72.44" y="609.10" font-size="6.80" text-anchor="middle" font-weight="normal" font-style="normal" fill="#1e1e1e" stroke="#1e1e1e" stroke-width="0.28">72</text>
<line x1="94.97" x2="94.97" y1="596.50" y2="599.30" stroke="#444" stroke-width="0.7"/>
<text x="94.97" y="609.10" font-size="6.80" text-anchor="middle" font-weight="normal" font-style="normal" fill="#1e1e1e" stroke="#1e1e1e" stroke-width="0.28">108</text>
<line x1="117.50" x2="117.50" y1="596.50" y2="599.30" stroke="#444" stroke-width="0.7"/>
<text x="117.50" y="609.10" font-size="6.80" text-anchor="middle" font-weight="normal" font-style="normal" fill="#1e1e1e" stroke="#1e1e1e" stroke-width="0.28">144</text>
<text x="72.75" y="621.40" font-size="8.40" text-anchor="middle" font-weight="normal" font-style="normal" fill="#1e1e1e" textLength="53.20" lengthAdjust="spacingAndGlyphs" stroke="#1e1e1e" stroke-width="0.28">DHITsig+ tumors</text>
<text x="72.75" y="631.50" font-size="8.40" text-anchor="middle" font-weight="normal" font-style="normal" fill="#1e1e1e" textLength="30.80" lengthAdjust="spacingAndGlyphs" stroke="#1e1e1e" stroke-width="0.28">(n = 144)</text>
<rect x="132.50" y="370.50" width="157.50" height="10.40" fill="#df8a1c"/>
<rect x="132.50" y="380.00" width="157.50" height="0.9" fill="#b86e12"/>
<rect x="132.50" y="370.50" width="157.50" height="0.4" fill="#b86e12" fill-opacity="0.5"/>
<text x="211.25" y="377.90" font-size="6.60" text-anchor="middle" font-weight="normal" font-style="normal" fill="#fff" stroke="#fff" stroke-width="0.2">GCB</text>
<path d="M132.50,417.00 C137.08,417.02 150.42,417.13 160.00,417.10 C169.58,417.07 182.80,417.28 190.00,416.80 C197.20,416.32 198.28,415.45 203.20,414.20 C208.12,412.95 214.60,410.93 219.50,409.30 C224.40,407.67 227.70,406.30 232.60,404.40 C237.50,402.50 244.33,399.88 248.90,397.90 C253.47,395.92 256.73,393.85 260.00,392.50 C263.27,391.15 265.83,390.05 268.50,389.80 C271.17,389.55 273.58,389.97 276.00,391.00 C278.42,392.03 280.67,393.75 283.00,396.00 C285.33,398.25 288.83,403.08 290.00,404.50 L290.00,418.50 L132.50,418.50 Z" fill="#a990bb" fill-opacity="0.95" stroke="none"/>
<path d="M132.50,417.00 C137.08,417.02 150.42,417.13 160.00,417.10 C169.58,417.07 182.80,417.28 190.00,416.80 C197.20,416.32 198.28,415.45 203.20,414.20 C208.12,412.95 214.60,410.93 219.50,409.30 C224.40,407.67 227.70,406.30 232.60,404.40 C237.50,402.50 244.33,399.88 248.90,397.90 C253.47,395.92 256.73,393.85 260.00,392.50 C263.27,391.15 265.83,390.05 268.50,389.80 C271.17,389.55 273.58,389.97 276.00,391.00 C278.42,392.03 280.67,393.75 283.00,396.00 C285.33,398.25 288.83,403.08 290.00,404.50" fill="none" stroke="#6b3f88" stroke-width="0.90"/>
<path d="M145.58,418.50v-4.30M169.94,418.50v-4.30M175.29,418.50v-4.30M190.15,418.50v-4.30M196.69,418.50v-4.30M199.07,418.50v-4.30M205.01,418.50v-4.30M211.55,418.50v-4.30M215.11,418.50v-4.30M218.08,418.50v-4.30M221.06,418.50v-4.30M224.03,418.50v-4.30M227.00,418.50v-4.30M229.38,418.50v-4.30M231.16,418.50v-4.30M231.75,418.50v-4.30M233.54,418.50v-4.30M234.13,418.50v-4.30M238.29,418.50v-4.30M241.86,418.50v-4.30M242.45,418.50v-4.30M243.05,418.50v-4.30M243.64,418.50v-4.30M245.42,418.50v-4.30M249.58,418.50v-4.30M250.18,418.50v-4.30M250.77,418.50v-4.30M251.37,418.50v-4.30M252.56,418.50v-4.30M253.15,418.50v-4.30M253.75,418.50v-4.30M254.34,418.50v-4.30M255.53,418.50v-4.30M256.12,418.50v-4.30M256.72,418.50v-4.30M258.50,418.50v-4.30M259.09,418.50v-4.30M260.28,418.50v-4.30M261.47,418.50v-4.30M262.66,418.50v-4.30M263.25,418.50v-4.30M263.85,418.50v-4.30M264.44,418.50v-4.30M265.63,418.50v-4.30M266.23,418.50v-4.30M266.82,418.50v-4.30M267.42,418.50v-4.30M268.01,418.50v-4.30M269.20,418.50v-4.30M270.39,418.50v-4.30M271.58,418.50v-4.30M272.17,418.50v-4.30M272.76,418.50v-4.30M273.95,418.50v-4.30M274.55,418.50v-4.30M275.14,418.50v-4.30M275.74,418.50v-4.30M276.33,418.50v-4.30M276.92,418.50v-4.30M277.52,418.50v-4.30M278.11,418.50v-4.30M278.71,418.50v-4.30M279.30,418.50v-4.30M279.90,418.50v-4.30M280.49,418.50v-4.30M281.08,418.50v-4.30M281.68,418.50v-4.30M282.27,418.50v-4.30M282.87,418.50v-4.30M284.06,418.50v-4.30M284.65,418.50v-4.30M285.25,418.50v-4.30M285.84,418.50v-4.30M286.43,418.50v-4.30M287.62,418.50v-4.30M288.81,418.50v-4.30M289.41,418.50v-4.30" stroke="#5a2a78" stroke-width="0.59" stroke-opacity="1.00" fill="none"/>
<path d="M132.50,455.50 C143.75,455.52 173.75,455.62 200.00,455.60 C226.25,455.58 275.00,455.43 290.00,455.40 L290.00,456.50 L132.50,456.50 Z" fill="#97a9c4" fill-opacity="1.00" stroke="none"/>
<path d="M132.50,455.50 C143.75,455.52 173.75,455.62 200.00,455.60 C226.25,455.58 275.00,455.43 290.00,455.40" fill="none" stroke="#3e5f98" stroke-width="0.90"/>
<path d="M149.14,456.50v-4.30M157.46,456.50v-4.30M226.41,456.50v-4.30M235.92,456.50v-4.30M265.04,456.50v-4.30M269.79,456.50v-4.30M288.22,456.50v-4.30" stroke="#36558f" stroke-width="0.59" stroke-opacity="1.00" fill="none"/>
<path d="M132.50,491.00 C140.42,490.63 165.42,489.18 180.00,488.80 C194.58,488.42 206.67,488.50 220.00,488.70 C233.33,488.90 248.33,489.35 260.00,490.00 C271.67,490.65 285.00,492.17 290.00,492.60 L290.00,494.50 L132.50,494.50 Z" fill="#97b3a9" fill-opacity="1.00" stroke="none"/>
<path d="M132.50,491.00 C140.42,490.63 165.42,489.18 180.00,488.80 C194.58,488.42 206.67,488.50 220.00,488.70 C233.33,488.90 248.33,489.35 260.00,490.00 C271.67,490.65 285.00,492.17 290.00,492.60" fill="none" stroke="#4b8a6d" stroke-width="0.90"/>
<path d="M132.50,494.50v-4.30M134.28,494.50v-4.30M142.60,494.50v-4.30M149.74,494.50v-4.30M150.92,494.50v-4.30M152.71,494.50v-4.30M158.06,494.50v-4.30M162.22,494.50v-4.30M162.81,494.50v-4.30M164.00,494.50v-4.30M165.78,494.50v-4.30M171.13,494.50v-4.30M172.92,494.50v-4.30M173.51,494.50v-4.30M177.67,494.50v-4.30M178.26,494.50v-4.30M180.64,494.50v-4.30M183.02,494.50v-4.30M190.75,494.50v-4.30M193.72,494.50v-4.30M194.31,494.50v-4.30M195.50,494.50v-4.30M201.44,494.50v-4.30M203.23,494.50v-4.30M209.76,494.50v-4.30M212.14,494.50v-4.30M213.33,494.50v-4.30M220.46,494.50v-4.30M225.22,494.50v-4.30M225.81,494.50v-4.30M230.57,494.50v-4.30M244.24,494.50v-4.30M248.99,494.50v-4.30M259.69,494.50v-4.30M260.88,494.50v-4.30M268.60,494.50v-4.30M287.03,494.50v-4.30" stroke="#2f6a4f" stroke-width="0.59" stroke-opacity="1.00" fill="none"/>
<path d="M132.50,520.50 C134.47,518.58 139.60,511.83 144.30,509.00 C149.00,506.17 155.25,504.85 160.70,503.50 C166.15,502.15 171.55,501.00 177.00,500.90 C182.45,500.80 187.95,501.80 193.40,502.90 C198.85,504.00 204.27,505.92 209.70,507.50 C215.13,509.08 220.55,510.50 226.00,512.40 C231.45,514.30 236.95,516.73 242.40,518.90 C247.85,521.07 254.35,523.88 258.70,525.40 C263.05,526.92 263.28,527.28 268.50,528.00 C273.72,528.72 286.42,529.42 290.00,529.70 L290.00,532.50 L132.50,532.50 Z" fill="#b2a28e" fill-opacity="1.00" stroke="none"/>
<path d="M132.50,520.50 C134.47,518.58 139.60,511.83 144.30,509.00 C149.00,506.17 155.25,504.85 160.70,503.50 C166.15,502.15 171.55,501.00 177.00,500.90 C182.45,500.80 187.95,501.80 193.40,502.90 C198.85,504.00 204.27,505.92 209.70,507.50 C215.13,509.08 220.55,510.50 226.00,512.40 C231.45,514.30 236.95,516.73 242.40,518.90 C247.85,521.07 254.35,523.88 258.70,525.40 C263.05,526.92 263.28,527.28 268.50,528.00 C273.72,528.72 286.42,529.42 290.00,529.70" fill="none" stroke="#7a5a3a" stroke-width="0.90"/>
<path d="M133.09,532.50v-4.30M133.69,532.50v-4.30M134.88,532.50v-4.30M135.47,532.50v-4.30M136.07,532.50v-4.30M136.66,532.50v-4.30M137.25,532.50v-4.30M137.85,532.50v-4.30M138.44,532.50v-4.30M139.04,532.50v-4.30M139.63,532.50v-4.30M140.23,532.50v-4.30M140.82,532.50v-4.30M141.42,532.50v-4.30M142.01,532.50v-4.30M143.20,532.50v-4.30M143.79,532.50v-4.30M144.39,532.50v-4.30M144.98,532.50v-4.30M146.17,532.50v-4.30M146.76,532.50v-4.30M147.36,532.50v-4.30M147.95,532.50v-4.30M148.55,532.50v-4.30M150.33,532.50v-4.30M151.52,532.50v-4.30M152.11,532.50v-4.30M153.30,532.50v-4.30M153.90,532.50v-4.30M154.49,532.50v-4.30M155.08,532.50v-4.30M155.68,532.50v-4.30M156.27,532.50v-4.30M156.87,532.50v-4.30M158.65,532.50v-4.30M159.25,532.50v-4.30M159.84,532.50v-4.30M160.43,532.50v-4.30M161.03,532.50v-4.30M161.62,532.50v-4.30M163.41,532.50v-4.30M164.59,532.50v-4.30M165.19,532.50v-4.30M166.38,532.50v-4.30M166.97,532.50v-4.30M167.57,532.50v-4.30M168.16,532.50v-4.30M168.75,532.50v-4.30M169.35,532.50v-4.30M170.54,532.50v-4.30M171.73,532.50v-4.30M172.32,532.50v-4.30M174.10,532.50v-4.30M174.70,532.50v-4.30M175.89,532.50v-4.30M176.48,532.50v-4.30M177.08,532.50v-4.30M178.86,532.50v-4.30M179.45,532.50v-4.30M180.05,532.50v-4.30M181.24,532.50v-4.30M181.83,532.50v-4.30M182.42,532.50v-4.30M183.61,532.50v-4.30M184.21,532.50v-4.30M184.80,532.50v-4.30M185.40,532.50v-4.30M185.99,532.50v-4.30M186.58,532.50v-4.30M187.18,532.50v-4.30M187.77,532.50v-4.30M188.37,532.50v-4.30M188.96,532.50v-4.30M189.56,532.50v-4.30M191.34,532.50v-4.30M191.93,532.50v-4.30M192.53,532.50v-4.30M193.12,532.50v-4.30M194.91,532.50v-4.30M196.09,532.50v-4.30M197.28,532.50v-4.30M197.88,532.50v-4.30M198.47,532.50v-4.30M199.66,532.50v-4.30M200.25,532.50v-4.30M200.85,532.50v-4.30M202.04,532.50v-4.30M202.63,532.50v-4.30M203.82,532.50v-4.30M204.42,532.50v-4.30M205.60,532.50v-4.30M206.20,532.50v-4.30M206.79,532.50v-4.30M207.39,532.50v-4.30M207.98,532.50v-4.30M208.58,532.50v-4.30M209.17,532.50v-4.30M210.36,532.50v-4.30M210.95,532.50v-4.30M212.74,532.50v-4.30M213.92,532.50v-4.30M214.52,532.50v-4.30M215.71,532.50v-4.30M216.30,532.50v-4.30M216.90,532.50v-4.30M217.49,532.50v-4.30M218.68,532.50v-4.30M219.27,532.50v-4.30M219.87,532.50v-4.30M221.65,532.50v-4.30M222.25,532.50v-4.30M222.84,532.50v-4.30M223.43,532.50v-4.30M224.62,532.50v-4.30M227.59,532.50v-4.30M228.19,532.50v-4.30M228.78,532.50v-4.30M229.97,532.50v-4.30M232.35,532.50v-4.30M232.94,532.50v-4.30M234.73,532.50v-4.30M235.32,532.50v-4.30M236.51,532.50v-4.30M237.10,532.50v-4.30M237.70,532.50v-4.30M238.89,532.50v-4.30M239.48,532.50v-4.30M240.08,532.50v-4.30M240.67,532.50v-4.30M241.26,532.50v-4.30M244.83,532.50v-4.30M246.02,532.50v-4.30M246.61,532.50v-4.30M247.21,532.50v-4.30M247.80,532.50v-4.30M248.40,532.50v-4.30M251.96,532.50v-4.30M254.93,532.50v-4.30M257.31,532.50v-4.30M257.91,532.50v-4.30M262.07,532.50v-4.30M270.98,532.50v-4.30M273.36,532.50v-4.30M283.46,532.50v-4.30M290.00,532.50v-4.30" stroke="#5c3c1c" stroke-width="0.59" stroke-opacity="1.00" fill="none"/>
<path d="M132.50,552.20 C133.38,551.12 135.83,547.33 137.80,545.70 C139.77,544.07 141.85,543.27 144.30,542.40 C146.75,541.53 149.77,540.67 152.50,540.50 C155.23,540.33 157.70,540.70 160.70,541.40 C163.70,542.10 166.97,543.30 170.50,544.70 C174.03,546.10 178.08,548.43 181.90,549.80 C185.72,551.17 189.32,551.85 193.40,552.90 C197.48,553.95 202.05,554.90 206.40,556.10 C210.75,557.30 215.13,558.73 219.50,560.10 C223.87,561.47 228.25,563.05 232.60,564.30 C236.95,565.55 241.25,566.80 245.60,567.60 C249.95,568.40 251.30,568.82 258.70,569.10 C266.10,569.38 284.78,569.27 290.00,569.30 L290.00,569.90 L132.50,569.90 Z" fill="#cdc9bf" stroke="none"/>
<path d="M132.50,569.00 C133.92,568.93 137.93,569.00 141.00,568.60 C144.07,568.20 147.62,567.58 150.90,566.60 C154.18,565.62 157.43,564.17 160.70,562.70 C163.97,561.23 167.23,559.27 170.50,557.80 C173.77,556.33 176.48,555.00 180.30,553.90 C184.12,552.80 188.50,552.18 193.40,551.20 C198.30,550.22 204.27,549.08 209.70,548.00 C215.13,546.92 220.55,545.80 226.00,544.70 C231.45,543.60 237.48,542.48 242.40,541.40 C247.32,540.32 251.68,539.02 255.50,538.20 C259.32,537.38 262.05,536.67 265.30,536.50 C268.55,536.33 272.28,536.38 275.00,537.20 C277.72,538.02 279.10,538.90 281.60,541.40 C284.10,543.90 288.60,550.40 290.00,552.20 L290.00,569.90 L132.50,569.90 Z" fill="#b09be0" fill-opacity="0.3" stroke="none"/>
<path d="M132.50,569.00 C133.92,568.93 137.93,569.00 141.00,568.60 C144.07,568.20 147.62,567.58 150.90,566.60 C154.18,565.62 157.43,564.17 160.70,562.70 C163.97,561.23 167.23,559.27 170.50,557.80 C173.77,556.33 176.48,555.00 180.30,553.90 C184.12,552.80 188.50,552.18 193.40,551.20 C198.30,550.22 204.27,549.08 209.70,548.00 C215.13,546.92 220.55,545.80 226.00,544.70 C231.45,543.60 237.48,542.48 242.40,541.40 C247.32,540.32 251.68,539.02 255.50,538.20 C259.32,537.38 262.05,536.67 265.30,536.50 C268.55,536.33 272.28,536.38 275.00,537.20 C277.72,538.02 279.10,538.90 281.60,541.40 C284.10,543.90 288.60,550.40 290.00,552.20" fill="none" stroke="#7a66cc" stroke-width="0.9"/>
<path d="M132.50,552.20 C133.38,551.12 135.83,547.33 137.80,545.70 C139.77,544.07 141.85,543.27 144.30,542.40 C146.75,541.53 149.77,540.67 152.50,540.50 C155.23,540.33 157.70,540.70 160.70,541.40 C163.70,542.10 166.97,543.30 170.50,544.70 C174.03,546.10 178.08,548.43 181.90,549.80 C185.72,551.17 189.32,551.85 193.40,552.90 C197.48,553.95 202.05,554.90 206.40,556.10 C210.75,557.30 215.13,558.73 219.50,560.10 C223.87,561.47 228.25,563.05 232.60,564.30 C236.95,565.55 241.25,566.80 245.60,567.60 C249.95,568.40 251.30,568.82 258.70,569.10 C266.10,569.38 284.78,569.27 290.00,569.30" fill="none" stroke="#141414" stroke-width="1.40"/>
<path d="M132.50,569.60v-2.0M133.09,569.60v-2.0M133.69,569.60v-2.0M134.28,569.60v-2.0M134.88,569.60v-2.0M135.47,569.60v-2.0M136.07,569.60v-2.0M136.66,569.60v-2.0M137.25,569.60v-2.0M137.85,569.60v-2.0M138.44,569.60v-2.0M139.04,569.60v-2.0M139.63,569.60v-2.0M140.23,569.60v-2.0M140.82,569.60v-2.0M141.42,569.60v-2.0M142.60,569.60v-2.0M143.20,569.60v-2.0M143.79,569.60v-2.0M144.39,569.60v-2.0M144.98,569.60v-2.0M145.58,569.60v-2.0M146.17,569.60v-2.0M146.76,569.60v-2.0M147.36,569.60v-2.0M147.95,569.60v-2.0M148.55,569.60v-2.0M149.14,569.60v-2.0M149.74,569.60v-2.0M150.33,569.60v-2.0M150.92,569.60v-2.0M151.52,569.60v-2.0M152.11,569.60v-2.0M152.71,569.60v-2.0M153.30,569.60v-2.0M154.49,569.60v-2.0M155.08,569.60v-2.0M155.68,569.60v-2.0M156.27,569.60v-2.0M156.87,569.60v-2.0M157.46,569.60v-2.0M158.06,569.60v-2.0M159.25,569.60v-2.0M159.84,569.60v-2.0M160.43,569.60v-2.0M161.03,569.60v-2.0M161.62,569.60v-2.0M162.22,569.60v-2.0M162.81,569.60v-2.0M163.41,569.60v-2.0M164.00,569.60v-2.0M164.59,569.60v-2.0M165.78,569.60v-2.0M166.38,569.60v-2.0M166.97,569.60v-2.0M167.57,569.60v-2.0M168.16,569.60v-2.0M169.35,569.60v-2.0M170.54,569.60v-2.0M171.13,569.60v-2.0M171.73,569.60v-2.0M172.32,569.60v-2.0M172.92,569.60v-2.0M173.51,569.60v-2.0M174.10,569.60v-2.0M174.70,569.60v-2.0M175.29,569.60v-2.0M175.89,569.60v-2.0M176.48,569.60v-2.0M177.67,569.60v-2.0M178.26,569.60v-2.0M180.05,569.60v-2.0M180.64,569.60v-2.0M181.24,569.60v-2.0M181.83,569.60v-2.0M182.42,569.60v-2.0M183.61,569.60v-2.0M184.21,569.60v-2.0M184.80,569.60v-2.0M185.40,569.60v-2.0M186.58,569.60v-2.0M187.18,569.60v-2.0M188.37,569.60v-2.0M188.96,569.60v-2.0M189.56,569.60v-2.0M190.75,569.60v-2.0M193.72,569.60v-2.0M194.91,569.60v-2.0M196.69,569.60v-2.0M197.88,569.60v-2.0M199.66,569.60v-2.0M202.04,569.60v-2.0M202.63,569.60v-2.0M203.82,569.60v-2.0M204.42,569.60v-2.0M205.01,569.60v-2.0M205.60,569.60v-2.0M207.98,569.60v-2.0M209.17,569.60v-2.0M212.14,569.60v-2.0M215.11,569.60v-2.0M216.30,569.60v-2.0M219.27,569.60v-2.0M222.84,569.60v-2.0M226.41,569.60v-2.0M229.97,569.60v-2.0M230.57,569.60v-2.0M233.54,569.60v-2.0M235.32,569.60v-2.0M236.51,569.60v-2.0M241.26,569.60v-2.0" stroke="#262626" stroke-width="0.59" stroke-opacity="0.55"/>
<path d="M142.01,569.60v-2.0M153.90,569.60v-2.0M158.65,569.60v-2.0M165.19,569.60v-2.0M168.75,569.60v-2.0M169.94,569.60v-2.0M177.08,569.60v-2.0M178.86,569.60v-2.0M179.45,569.60v-2.0M183.02,569.60v-2.0M185.99,569.60v-2.0M187.77,569.60v-2.0M190.15,569.60v-2.0M191.34,569.60v-2.0M191.93,569.60v-2.0M192.53,569.60v-2.0M193.12,569.60v-2.0M194.31,569.60v-2.0M195.50,569.60v-2.0M196.09,569.60v-2.0M197.28,569.60v-2.0M198.47,569.60v-2.0M199.07,569.60v-2.0M200.25,569.60v-2.0M200.85,569.60v-2.0M201.44,569.60v-2.0M203.23,569.60v-2.0M206.20,569.60v-2.0M206.79,569.60v-2.0M207.39,569.60v-2.0M208.58,569.60v-2.0M209.76,569.60v-2.0M210.36,569.60v-2.0M210.95,569.60v-2.0M211.55,569.60v-2.0M212.74,569.60v-2.0M213.33,569.60v-2.0M213.92,569.60v-2.0M214.52,569.60v-2.0M215.71,569.60v-2.0M216.90,569.60v-2.0M217.49,569.60v-2.0M218.08,569.60v-2.0M218.68,569.60v-2.0M219.87,569.60v-2.0M220.46,569.60v-2.0M221.06,569.60v-2.0M221.65,569.60v-2.0M222.25,569.60v-2.0M223.43,569.60v-2.0M224.03,569.60v-2.0M224.62,569.60v-2.0M225.22,569.60v-2.0M225.81,569.60v-2.0M227.00,569.60v-2.0M227.59,569.60v-2.0M228.19,569.60v-2.0M228.78,569.60v-2.0M229.38,569.60v-2.0M231.16,569.60v-2.0M231.75,569.60v-2.0M232.35,569.60v-2.0M232.94,569.60v-2.0M234.13,569.60v-2.0M234.73,569.60v-2.0M235.92,569.60v-2.0M237.10,569.60v-2.0M237.70,569.60v-2.0M238.29,569.60v-2.0M238.89,569.60v-2.0M239.48,569.60v-2.0M240.08,569.60v-2.0M240.67,569.60v-2.0M241.86,569.60v-2.0M242.45,569.60v-2.0M243.05,569.60v-2.0M243.64,569.60v-2.0M244.24,569.60v-2.0M244.83,569.60v-2.0M245.42,569.60v-2.0M246.02,569.60v-2.0M246.61,569.60v-2.0M247.21,569.60v-2.0M247.80,569.60v-2.0M248.40,569.60v-2.0M248.99,569.60v-2.0M249.58,569.60v-2.0M250.18,569.60v-2.0M250.77,569.60v-2.0M251.37,569.60v-2.0M251.96,569.60v-2.0M252.56,569.60v-2.0M253.15,569.60v-2.0M253.75,569.60v-2.0M254.34,569.60v-2.0M254.93,569.60v-2.0M255.53,569.60v-2.0M256.12,569.60v-2.0M256.72,569.60v-2.0M257.31,569.60v-2.0M257.91,569.60v-2.0M258.50,569.60v-2.0M259.09,569.60v-2.0M259.69,569.60v-2.0M260.28,569.60v-2.0M260.88,569.60v-2.0M261.47,569.60v-2.0M262.07,569.60v-2.0M262.66,569.60v-2.0M263.25,569.60v-2.0M263.85,569.60v-2.0M264.44,569.60v-2.0M265.04,569.60v-2.0M265.63,569.60v-2.0M266.23,569.60v-2.0M266.82,569.60v-2.0M267.42,569.60v-2.0M268.01,569.60v-2.0M268.60,569.60v-2.0M269.20,569.60v-2.0M269.79,569.60v-2.0M270.39,569.60v-2.0M270.98,569.60v-2.0M271.58,569.60v-2.0M272.17,569.60v-2.0M272.76,569.60v-2.0M273.36,569.60v-2.0M273.95,569.60v-2.0M274.55,569.60v-2.0M275.14,569.60v-2.0M275.74,569.60v-2.0M276.33,569.60v-2.0M276.92,569.60v-2.0M277.52,569.60v-2.0M278.11,569.60v-2.0M278.71,569.60v-2.0M279.30,569.60v-2.0M279.90,569.60v-2.0M280.49,569.60v-2.0M281.08,569.60v-2.0M281.68,569.60v-2.0M282.27,569.60v-2.0M282.87,569.60v-2.0M283.46,569.60v-2.0M284.06,569.60v-2.0M284.65,569.60v-2.0M285.25,569.60v-2.0M285.84,569.60v-2.0M286.43,569.60v-2.0M287.03,569.60v-2.0M287.62,569.60v-2.0M288.22,569.60v-2.0M288.81,569.60v-2.0M289.41,569.60v-2.0M290.00,569.60v-2.0" stroke="#7462c4" stroke-width="0.59" stroke-opacity="0.55"/>
<rect x="132.50" y="571.50" width="157.50" height="25.00" fill="url(#g325_1)"/>
<line x1="132.50" x2="290.00" y1="419.30" y2="419.30" stroke="#999" stroke-width="1.50"/>
<line x1="132.50" x2="290.00" y1="457.30" y2="457.30" stroke="#999" stroke-width="1.50"/>
<line x1="132.50" x2="290.00" y1="495.30" y2="495.30" stroke="#999" stroke-width="1.50"/>
<line x1="132.50" x2="290.00" y1="533.10" y2="533.10" stroke="#c8c8c8" stroke-width="1"/>
<line x1="132.50" x2="290.00" y1="534.80" y2="534.80" stroke="#bdbdbd" stroke-width="0.8"/>
<line x1="132.50" x2="290.00" y1="569.90" y2="569.90" stroke="#8c8c8c" stroke-width="0.8"/>
<line x1="132.50" x2="132.50" y1="380.90" y2="532.50" stroke="#c4c4c4" stroke-width="0.8"/>
<line x1="132.50" x2="132.50" y1="534.80" y2="569.90" stroke="#c4c4c4" stroke-width="0.8"/>
<line x1="290.00" x2="290.00" y1="380.90" y2="532.50" stroke="#c4c4c4" stroke-width="0.8"/>
<line x1="290.00" x2="290.00" y1="534.80" y2="569.90" stroke="#c4c4c4" stroke-width="0.8"/>
<line x1="230.50" x2="230.50" y1="380.90" y2="597.50" stroke="#383838" stroke-width="1.0" stroke-dasharray="2.4,2.1" stroke-dashoffset="2.700"/>
<line x1="132.50" x2="132.50" y1="596.50" y2="599.30" stroke="#444" stroke-width="0.7"/>
<text x="132.50" y="609.10" font-size="6.80" text-anchor="middle" font-weight="normal" font-style="normal" fill="#1e1e1e" stroke="#1e1e1e" stroke-width="0.28">1</text>
<line x1="171.13" x2="171.13" y1="596.50" y2="599.30" stroke="#444" stroke-width="0.7"/>
<text x="171.13" y="609.10" font-size="6.80" text-anchor="middle" font-weight="normal" font-style="normal" fill="#1e1e1e" stroke="#1e1e1e" stroke-width="0.28">66</text>
<line x1="210.95" x2="210.95" y1="596.50" y2="599.30" stroke="#444" stroke-width="0.7"/>
<text x="210.95" y="609.10" font-size="6.80" text-anchor="middle" font-weight="normal" font-style="normal" fill="#1e1e1e" stroke="#1e1e1e" stroke-width="0.28">133</text>
<line x1="250.77" x2="250.77" y1="596.50" y2="599.30" stroke="#444" stroke-width="0.7"/>
<text x="250.77" y="609.10" font-size="6.80" text-anchor="middle" font-weight="normal" font-style="normal" fill="#1e1e1e" stroke="#1e1e1e" stroke-width="0.28">200</text>
<line x1="290.00" x2="290.00" y1="596.50" y2="599.30" stroke="#444" stroke-width="0.7"/>
<text x="290.00" y="609.10" font-size="6.80" text-anchor="middle" font-weight="normal" font-style="normal" fill="#1e1e1e" stroke="#1e1e1e" stroke-width="0.28">266</text>
<text x="211.25" y="621.40" font-size="8.40" text-anchor="middle" font-weight="normal" font-style="normal" fill="#1e1e1e" textLength="37.20" lengthAdjust="spacingAndGlyphs" stroke="#1e1e1e" stroke-width="0.28">GCB tumors</text>
<text x="211.25" y="631.50" font-size="8.40" text-anchor="middle" font-weight="normal" font-style="normal" fill="#1e1e1e" textLength="30.80" lengthAdjust="spacingAndGlyphs" stroke="#1e1e1e" stroke-width="0.28">(n = 266)</text>
<rect x="304.80" y="370.50" width="156.20" height="10.40" fill="#60a6dd"/>
<rect x="304.80" y="380.00" width="156.20" height="0.9" fill="#3f84bb"/>
<rect x="304.80" y="370.50" width="156.20" height="0.4" fill="#3f84bb" fill-opacity="0.5"/>
<text x="382.90" y="377.90" font-size="6.60" text-anchor="middle" font-weight="normal" font-style="normal" fill="#fff" stroke="#fff" stroke-width="0.2">ABC</text>
<path d="M304.80,417.80 C330.83,417.77 434.97,417.63 461.00,417.60 L461.00,418.50 L304.80,418.50 Z" fill="#a990bb" fill-opacity="0.95" stroke="none"/>
<path d="M304.80,417.80 C330.83,417.77 434.97,417.63 461.00,417.60" fill="none" stroke="#6b3f88" stroke-width="0.90"/>
<path d="M309.14,418.50v-4.30M314.72,418.50v-4.30M343.23,418.50v-4.30M353.77,418.50v-4.30M378.56,418.50v-4.30M388.48,418.50v-4.30M389.10,418.50v-4.30M413.89,418.50v-4.30M438.69,418.50v-4.30M443.64,418.50v-4.30M446.74,418.50v-4.30M457.90,418.50v-4.30" stroke="#5a2a78" stroke-width="0.62" stroke-opacity="1.00" fill="none"/>
<path d="M304.80,455.80 C309.45,455.42 322.60,453.72 332.70,453.50 C342.80,453.28 356.68,454.50 365.40,454.50 C374.12,454.50 379.02,454.05 385.00,453.50 C390.98,452.95 395.87,451.90 401.30,451.20 C406.73,450.50 411.60,449.83 417.60,449.30 C423.60,448.77 431.85,448.12 437.30,448.00 C442.75,447.88 446.35,448.22 450.30,448.60 C454.25,448.98 459.22,450.02 461.00,450.30 L461.00,456.50 L304.80,456.50 Z" fill="#97a9c4" fill-opacity="1.00" stroke="none"/>
<path d="M304.80,455.80 C309.45,455.42 322.60,453.72 332.70,453.50 C342.80,453.28 356.68,454.50 365.40,454.50 C374.12,454.50 379.02,454.05 385.00,453.50 C390.98,452.95 395.87,451.90 401.30,451.20 C406.73,450.50 411.60,449.83 417.60,449.30 C423.60,448.77 431.85,448.12 437.30,448.00 C442.75,447.88 446.35,448.22 450.30,448.60 C454.25,448.98 459.22,450.02 461.00,450.30" fill="none" stroke="#3e5f98" stroke-width="0.90"/>
<path d="M328.35,456.50v-4.30M335.17,456.50v-4.30M358.11,456.50v-4.30M369.88,456.50v-4.30M372.98,456.50v-4.30M381.66,456.50v-4.30M383.52,456.50v-4.30M395.30,456.50v-4.30M395.92,456.50v-4.30M401.50,456.50v-4.30M412.03,456.50v-4.30M413.27,456.50v-4.30M420.09,456.50v-4.30M423.81,456.50v-4.30M426.29,456.50v-4.30M426.91,456.50v-4.30M427.53,456.50v-4.30M429.39,456.50v-4.30M432.49,456.50v-4.30M435.59,456.50v-4.30M436.21,456.50v-4.30M438.07,456.50v-4.30M444.88,456.50v-4.30M449.22,456.50v-4.30M452.32,456.50v-4.30M452.94,456.50v-4.30M454.18,456.50v-4.30M454.80,456.50v-4.30M455.42,456.50v-4.30M458.52,456.50v-4.30M460.38,456.50v-4.30M461.00,456.50v-4.30" stroke="#36558f" stroke-width="0.62" stroke-opacity="1.00" fill="none"/>
<path d="M304.80,487.80 C307.27,487.15 314.95,484.70 319.60,483.90 C324.25,483.10 328.33,483.32 332.70,483.00 C337.07,482.68 341.45,482.55 345.80,482.00 C350.15,481.45 354.45,480.53 358.80,479.70 C363.15,478.87 367.53,477.72 371.90,477.00 C376.27,476.28 381.18,475.67 385.00,475.40 C388.82,475.13 391.00,475.18 394.80,475.40 C398.60,475.62 402.90,475.98 407.80,476.70 C412.70,477.42 418.75,478.65 424.20,479.70 C429.65,480.75 434.37,481.65 440.50,483.00 C446.63,484.35 457.58,487.00 461.00,487.80 L461.00,494.50 L304.80,494.50 Z" fill="#97b3a9" fill-opacity="1.00" stroke="none"/>
<path d="M304.80,487.80 C307.27,487.15 314.95,484.70 319.60,483.90 C324.25,483.10 328.33,483.32 332.70,483.00 C337.07,482.68 341.45,482.55 345.80,482.00 C350.15,481.45 354.45,480.53 358.80,479.70 C363.15,478.87 367.53,477.72 371.90,477.00 C376.27,476.28 381.18,475.67 385.00,475.40 C388.82,475.13 391.00,475.18 394.80,475.40 C398.60,475.62 402.90,475.98 407.80,476.70 C412.70,477.42 418.75,478.65 424.20,479.70 C429.65,480.75 434.37,481.65 440.50,483.00 C446.63,484.35 457.58,487.00 461.00,487.80" fill="none" stroke="#4b8a6d" stroke-width="0.90"/>
<path d="M304.80,494.50v-4.30M306.66,494.50v-4.30M307.28,494.50v-4.30M312.24,494.50v-4.30M313.48,494.50v-4.30M315.34,494.50v-4.30M319.68,494.50v-4.30M320.30,494.50v-4.30M321.54,494.50v-4.30M322.78,494.50v-4.30M323.40,494.50v-4.30M327.73,494.50v-4.30M329.59,494.50v-4.30M330.21,494.50v-4.30M331.45,494.50v-4.30M332.69,494.50v-4.30M333.31,494.50v-4.30M333.93,494.50v-4.30M335.79,494.50v-4.30M337.03,494.50v-4.30M337.65,494.50v-4.30M340.13,494.50v-4.30M342.61,494.50v-4.30M344.47,494.50v-4.30M345.09,494.50v-4.30M348.19,494.50v-4.30M353.15,494.50v-4.30M354.39,494.50v-4.30M355.01,494.50v-4.30M356.25,494.50v-4.30M358.73,494.50v-4.30M359.35,494.50v-4.30M360.59,494.50v-4.30M361.21,494.50v-4.30M361.83,494.50v-4.30M362.45,494.50v-4.30M363.68,494.50v-4.30M364.92,494.50v-4.30M365.54,494.50v-4.30M366.16,494.50v-4.30M369.26,494.50v-4.30M370.50,494.50v-4.30M372.36,494.50v-4.30M373.60,494.50v-4.30M374.22,494.50v-4.30M374.84,494.50v-4.30M375.46,494.50v-4.30M376.70,494.50v-4.30M379.18,494.50v-4.30M379.80,494.50v-4.30M380.42,494.50v-4.30M381.04,494.50v-4.30M382.28,494.50v-4.30M384.14,494.50v-4.30M384.76,494.50v-4.30M386.00,494.50v-4.30M386.62,494.50v-4.30M387.24,494.50v-4.30M387.86,494.50v-4.30M389.72,494.50v-4.30M390.34,494.50v-4.30M391.58,494.50v-4.30M392.20,494.50v-4.30M392.82,494.50v-4.30M394.06,494.50v-4.30M394.68,494.50v-4.30M396.54,494.50v-4.30M397.16,494.50v-4.30M398.40,494.50v-4.30M399.02,494.50v-4.30M400.88,494.50v-4.30M402.12,494.50v-4.30M402.73,494.50v-4.30M403.35,494.50v-4.30M407.07,494.50v-4.30M407.69,494.50v-4.30M408.31,494.50v-4.30M408.93,494.50v-4.30M410.17,494.50v-4.30M412.65,494.50v-4.30M414.51,494.50v-4.30M415.13,494.50v-4.30M415.75,494.50v-4.30M416.99,494.50v-4.30M419.47,494.50v-4.30M421.33,494.50v-4.30M422.57,494.50v-4.30M423.19,494.50v-4.30M424.43,494.50v-4.30M425.67,494.50v-4.30M428.15,494.50v-4.30M430.01,494.50v-4.30M430.63,494.50v-4.30M431.25,494.50v-4.30M433.11,494.50v-4.30M433.73,494.50v-4.30M437.45,494.50v-4.30M440.55,494.50v-4.30M441.17,494.50v-4.30M441.78,494.50v-4.30M442.40,494.50v-4.30M444.26,494.50v-4.30M446.12,494.50v-4.30M451.08,494.50v-4.30M451.70,494.50v-4.30M453.56,494.50v-4.30M456.04,494.50v-4.30M456.66,494.50v-4.30M457.28,494.50v-4.30M459.14,494.50v-4.30" stroke="#2f6a4f" stroke-width="0.62" stroke-opacity="1.00" fill="none"/>
<path d="M304.80,520.50 C306.17,519.68 309.47,517.07 313.00,515.60 C316.53,514.13 322.17,512.63 326.00,511.70 C329.83,510.77 332.17,510.17 336.00,510.00 C339.83,509.83 344.10,510.03 349.00,510.70 C353.90,511.37 359.95,512.90 365.40,514.00 C370.85,515.10 376.27,516.75 381.70,517.30 C387.13,517.85 392.55,517.42 398.00,517.30 C403.45,517.18 408.95,516.33 414.40,516.60 C419.85,516.87 425.80,517.70 430.70,518.90 C435.60,520.10 438.75,521.78 443.80,523.80 C448.85,525.82 458.13,529.80 461.00,531.00 L461.00,532.50 L304.80,532.50 Z" fill="#b2a28e" fill-opacity="1.00" stroke="none"/>
<path d="M304.80,520.50 C306.17,519.68 309.47,517.07 313.00,515.60 C316.53,514.13 322.17,512.63 326.00,511.70 C329.83,510.77 332.17,510.17 336.00,510.00 C339.83,509.83 344.10,510.03 349.00,510.70 C353.90,511.37 359.95,512.90 365.40,514.00 C370.85,515.10 376.27,516.75 381.70,517.30 C387.13,517.85 392.55,517.42 398.00,517.30 C403.45,517.18 408.95,516.33 414.40,516.60 C419.85,516.87 425.80,517.70 430.70,518.90 C435.60,520.10 438.75,521.78 443.80,523.80 C448.85,525.82 458.13,529.80 461.00,531.00" fill="none" stroke="#7a5a3a" stroke-width="0.90"/>
<path d="M305.42,532.50v-4.30M306.04,532.50v-4.30M307.90,532.50v-4.30M308.52,532.50v-4.30M309.76,532.50v-4.30M310.38,532.50v-4.30M311.00,532.50v-4.30M311.62,532.50v-4.30M312.86,532.50v-4.30M314.10,532.50v-4.30M315.96,532.50v-4.30M316.58,532.50v-4.30M317.20,532.50v-4.30M317.82,532.50v-4.30M318.44,532.50v-4.30M319.06,532.50v-4.30M320.92,532.50v-4.30M322.16,532.50v-4.30M324.02,532.50v-4.30M324.63,532.50v-4.30M325.25,532.50v-4.30M325.87,532.50v-4.30M326.49,532.50v-4.30M327.11,532.50v-4.30M328.97,532.50v-4.30M330.83,532.50v-4.30M332.07,532.50v-4.30M334.55,532.50v-4.30M336.41,532.50v-4.30M338.27,532.50v-4.30M338.89,532.50v-4.30M339.51,532.50v-4.30M340.75,532.50v-4.30M341.37,532.50v-4.30M341.99,532.50v-4.30M343.85,532.50v-4.30M345.71,532.50v-4.30M346.33,532.50v-4.30M346.95,532.50v-4.30M347.57,532.50v-4.30M348.81,532.50v-4.30M349.43,532.50v-4.30M350.05,532.50v-4.30M350.67,532.50v-4.30M351.29,532.50v-4.30M351.91,532.50v-4.30M352.53,532.50v-4.30M355.63,532.50v-4.30M356.87,532.50v-4.30M357.49,532.50v-4.30M359.97,532.50v-4.30M363.07,532.50v-4.30M364.30,532.50v-4.30M366.78,532.50v-4.30M367.40,532.50v-4.30M368.02,532.50v-4.30M368.64,532.50v-4.30M371.12,532.50v-4.30M371.74,532.50v-4.30M376.08,532.50v-4.30M377.32,532.50v-4.30M377.94,532.50v-4.30M382.90,532.50v-4.30M385.38,532.50v-4.30M390.96,532.50v-4.30M393.44,532.50v-4.30M397.78,532.50v-4.30M399.64,532.50v-4.30M400.26,532.50v-4.30M403.97,532.50v-4.30M404.59,532.50v-4.30M405.21,532.50v-4.30M405.83,532.50v-4.30M406.45,532.50v-4.30M409.55,532.50v-4.30M410.79,532.50v-4.30M411.41,532.50v-4.30M416.37,532.50v-4.30M417.61,532.50v-4.30M418.23,532.50v-4.30M418.85,532.50v-4.30M420.71,532.50v-4.30M421.95,532.50v-4.30M425.05,532.50v-4.30M428.77,532.50v-4.30M431.87,532.50v-4.30M434.35,532.50v-4.30M434.97,532.50v-4.30M436.83,532.50v-4.30M439.31,532.50v-4.30M439.93,532.50v-4.30M443.02,532.50v-4.30M445.50,532.50v-4.30M447.36,532.50v-4.30M447.98,532.50v-4.30M448.60,532.50v-4.30M449.84,532.50v-4.30M450.46,532.50v-4.30M459.76,532.50v-4.30" stroke="#5c3c1c" stroke-width="0.62" stroke-opacity="1.00" fill="none"/>
<path d="M304.80,559.40 C305.90,558.97 307.87,556.53 311.40,556.80 C314.93,557.07 321.37,560.02 326.00,561.00 C330.63,561.98 334.82,561.87 339.20,562.70 C343.58,563.53 347.93,565.08 352.30,566.00 C356.67,566.92 360.50,567.70 365.40,568.20 C370.30,568.70 365.77,568.83 381.70,569.00 C397.63,569.17 447.78,569.17 461.00,569.20 L461.00,569.90 L304.80,569.90 Z" fill="#cdc9bf" stroke="none"/>
<path d="M304.80,557.80 C305.90,557.42 308.38,556.87 311.40,555.50 C314.42,554.13 318.80,551.40 322.90,549.60 C327.00,547.80 331.10,546.07 336.00,544.70 C340.90,543.33 346.87,542.65 352.30,541.40 C357.73,540.15 363.15,538.12 368.60,537.20 C374.05,536.28 375.73,536.17 385.00,535.90 C394.27,535.63 414.95,535.22 424.20,535.60 C433.45,535.98 436.15,536.97 440.50,538.20 C444.85,539.43 446.88,540.55 450.30,543.00 C453.72,545.45 459.22,551.25 461.00,552.90 L461.00,569.90 L304.80,569.90 Z" fill="#b09be0" fill-opacity="0.3" stroke="none"/>
<path d="M304.80,557.80 C305.90,557.42 308.38,556.87 311.40,555.50 C314.42,554.13 318.80,551.40 322.90,549.60 C327.00,547.80 331.10,546.07 336.00,544.70 C340.90,543.33 346.87,542.65 352.30,541.40 C357.73,540.15 363.15,538.12 368.60,537.20 C374.05,536.28 375.73,536.17 385.00,535.90 C394.27,535.63 414.95,535.22 424.20,535.60 C433.45,535.98 436.15,536.97 440.50,538.20 C444.85,539.43 446.88,540.55 450.30,543.00 C453.72,545.45 459.22,551.25 461.00,552.90" fill="none" stroke="#7a66cc" stroke-width="0.9"/>
<path d="M304.80,559.40 C305.90,558.97 307.87,556.53 311.40,556.80 C314.93,557.07 321.37,560.02 326.00,561.00 C330.63,561.98 334.82,561.87 339.20,562.70 C343.58,563.53 347.93,565.08 352.30,566.00 C356.67,566.92 360.50,567.70 365.40,568.20 C370.30,568.70 365.77,568.83 381.70,569.00 C397.63,569.17 447.78,569.17 461.00,569.20" fill="none" stroke="#141414" stroke-width="1.30"/>
<path d="M307.28,569.60v-2.0M308.52,569.60v-2.0M310.38,569.60v-2.0M311.00,569.60v-2.0M311.62,569.60v-2.0M312.24,569.60v-2.0M312.86,569.60v-2.0M315.96,569.60v-2.0M317.82,569.60v-2.0M319.06,569.60v-2.0M319.68,569.60v-2.0M320.92,569.60v-2.0M322.16,569.60v-2.0M323.40,569.60v-2.0M324.02,569.60v-2.0M324.63,569.60v-2.0M325.25,569.60v-2.0M325.87,569.60v-2.0M326.49,569.60v-2.0M328.35,569.60v-2.0M334.55,569.60v-2.0M340.13,569.60v-2.0M340.75,569.60v-2.0M341.37,569.60v-2.0M345.71,569.60v-2.0M346.33,569.60v-2.0M348.19,569.60v-2.0M349.43,569.60v-2.0M358.11,569.60v-2.0M374.84,569.60v-2.0M413.89,569.60v-2.0M421.95,569.60v-2.0M423.81,569.60v-2.0M433.73,569.60v-2.0" stroke="#262626" stroke-width="0.62" stroke-opacity="0.55"/>
<path d="M304.80,569.60v-2.0M305.42,569.60v-2.0M306.04,569.60v-2.0M306.66,569.60v-2.0M307.90,569.60v-2.0M309.14,569.60v-2.0M309.76,569.60v-2.0M313.48,569.60v-2.0M314.10,569.60v-2.0M314.72,569.60v-2.0M315.34,569.60v-2.0M316.58,569.60v-2.0M317.20,569.60v-2.0M318.44,569.60v-2.0M320.30,569.60v-2.0M321.54,569.60v-2.0M322.78,569.60v-2.0M327.11,569.60v-2.0M327.73,569.60v-2.0M328.97,569.60v-2.0M329.59,569.60v-2.0M330.21,569.60v-2.0M330.83,569.60v-2.0M331.45,569.60v-2.0M332.07,569.60v-2.0M332.69,569.60v-2.0M333.31,569.60v-2.0M333.93,569.60v-2.0M335.17,569.60v-2.0M335.79,569.60v-2.0M336.41,569.60v-2.0M337.03,569.60v-2.0M337.65,569.60v-2.0M338.27,569.60v-2.0M338.89,569.60v-2.0M339.51,569.60v-2.0M341.99,569.60v-2.0M342.61,569.60v-2.0M343.23,569.60v-2.0M343.85,569.60v-2.0M344.47,569.60v-2.0M345.09,569.60v-2.0M346.95,569.60v-2.0M347.57,569.60v-2.0M348.81,569.60v-2.0M350.05,569.60v-2.0M350.67,569.60v-2.0M351.29,569.60v-2.0M351.91,569.60v-2.0M352.53,569.60v-2.0M353.15,569.60v-2.0M353.77,569.60v-2.0M354.39,569.60v-2.0M355.01,569.60v-2.0M355.63,569.60v-2.0M356.25,569.60v-2.0M356.87,569.60v-2.0M357.49,569.60v-2.0M358.73,569.60v-2.0M359.35,569.60v-2.0M359.97,569.60v-2.0M360.59,569.60v-2.0M361.21,569.60v-2.0M361.83,569.60v-2.0M362.45,569.60v-2.0M363.07,569.60v-2.0M363.68,569.60v-2.0M364.30,569.60v-2.0M364.92,569.60v-2.0M365.54,569.60v-2.0M366.16,569.60v-2.0M366.78,569.60v-2.0M367.40,569.60v-2.0M368.02,569.60v-2.0M368.64,569.60v-2.0M369.26,569.60v-2.0M369.88,569.60v-2.0M370.50,569.60v-2.0M371.12,569.60v-2.0M371.74,569.60v-2.0M372.36,569.60v-2.0M372.98,569.60v-2.0M373.60,569.60v-2.0M374.22,569.60v-2.0M375.46,569.60v-2.0M376.08,569.60v-2.0M376.70,569.60v-2.0M377.32,569.60v-2.0M377.94,569.60v-2.0M378.56,569.60v-2.0M379.18,569.60v-2.0M379.80,569.60v-2.0M380.42,569.60v-2.0M381.04,569.60v-2.0M381.66,569.60v-2.0M382.28,569.60v-2.0M382.90,569.60v-2.0M383.52,569.60v-2.0M384.14,569.60v-2.0M384.76,569.60v-2.0M385.38,569.60v-2.0M386.00,569.60v-2.0M386.62,569.60v-2.0M387.24,569.60v-2.0M387.86,569.60v-2.0M388.48,569.60v-2.0M389.10,569.60v-2.0M389.72,569.60v-2.0M390.34,569.60v-2.0M390.96,569.60v-2.0M391.58,569.60v-2.0M392.20,569.60v-2.0M392.82,569.60v-2.0M393.44,569.60v-2.0M394.06,569.60v-2.0M394.68,569.60v-2.0M395.30,569.60v-2.0M395.92,569.60v-2.0M396.54,569.60v-2.0M397.16,569.60v-2.0M397.78,569.60v-2.0M398.40,569.60v-2.0M399.02,569.60v-2.0M399.64,569.60v-2.0M400.26,569.60v-2.0M400.88,569.60v-2.0M401.50,569.60v-2.0M402.12,569.60v-2.0M402.73,569.60v-2.0M403.35,569.60v-2.0M403.97,569.60v-2.0M404.59,569.60v-2.0M405.21,569.60v-2.0M405.83,569.60v-2.0M406.45,569.60v-2.0M407.07,569.60v-2.0M407.69,569.60v-2.0M408.31,569.60v-2.0M408.93,569.60v-2.0M409.55,569.60v-2.0M410.17,569.60v-2.0M410.79,569.60v-2.0M411.41,569.60v-2.0M412.03,569.60v-2.0M412.65,569.60v-2.0M413.27,569.60v-2.0M414.51,569.60v-2.0M415.13,569.60v-2.0M415.75,569.60v-2.0M416.37,569.60v-2.0M416.99,569.60v-2.0M417.61,569.60v-2.0M418.23,569.60v-2.0M418.85,569.60v-2.0M419.47,569.60v-2.0M420.09,569.60v-2.0M420.71,569.60v-2.0M421.33,569.60v-2.0M422.57,569.60v-2.0M423.19,569.60v-2.0M424.43,569.60v-2.0M425.05,569.60v-2.0M425.67,569.60v-2.0M426.29,569.60v-2.0M426.91,569.60v-2.0M427.53,569.60v-2.0M428.15,569.60v-2.0M428.77,569.60v-2.0M429.39,569.60v-2.0M430.01,569.60v-2.0M430.63,569.60v-2.0M431.25,569.60v-2.0M431.87,569.60v-2.0M432.49,569.60v-2.0M433.11,569.60v-2.0M434.35,569.60v-2.0M434.97,569.60v-2.0M435.59,569.60v-2.0M436.21,569.60v-2.0M436.83,569.60v-2.0M437.45,569.60v-2.0M438.07,569.60v-2.0M438.69,569.60v-2.0M439.31,569.60v-2.0M439.93,569.60v-2.0M440.55,569.60v-2.0M441.17,569.60v-2.0M441.78,569.60v-2.0M442.40,569.60v-2.0M443.02,569.60v-2.0M443.64,569.60v-2.0M444.26,569.60v-2.0M444.88,569.60v-2.0M445.50,569.60v-2.0M446.12,569.60v-2.0M446.74,569.60v-2.0M447.36,569.60v-2.0M447.98,569.60v-2.0M448.60,569.60v-2.0M449.22,569.60v-2.0M449.84,569.60v-2.0M450.46,569.60v-2.0M451.08,569.60v-2.0M451.70,569.60v-2.0M452.32,569.60v-2.0M452.94,569.60v-2.0M453.56,569.60v-2.0M454.18,569.60v-2.0M454.80,569.60v-2.0M455.42,569.60v-2.0M456.04,569.60v-2.0M456.66,569.60v-2.0M457.28,569.60v-2.0M457.90,569.60v-2.0M458.52,569.60v-2.0M459.14,569.60v-2.0M459.76,569.60v-2.0M460.38,569.60v-2.0M461.00,569.60v-2.0" stroke="#7462c4" stroke-width="0.62" stroke-opacity="0.55"/>
<rect x="304.80" y="571.50" width="156.20" height="25.00" fill="url(#g325_2)"/>
<line x1="304.80" x2="461.00" y1="419.30" y2="419.30" stroke="#999" stroke-width="1.50"/>
<line x1="304.80" x2="461.00" y1="457.30" y2="457.30" stroke="#999" stroke-width="1.50"/>
<line x1="304.80" x2="461.00" y1="495.30" y2="495.30" stroke="#999" stroke-width="1.50"/>
<line x1="304.80" x2="461.00" y1="533.10" y2="533.10" stroke="#c8c8c8" stroke-width="1"/>
<line x1="304.80" x2="461.00" y1="534.80" y2="534.80" stroke="#bdbdbd" stroke-width="0.8"/>
<line x1="304.80" x2="461.00" y1="569.90" y2="569.90" stroke="#8c8c8c" stroke-width="0.8"/>
<line x1="304.80" x2="304.80" y1="380.90" y2="532.50" stroke="#c4c4c4" stroke-width="0.8"/>
<line x1="304.80" x2="304.80" y1="534.80" y2="569.90" stroke="#c4c4c4" stroke-width="0.8"/>
<line x1="461.00" x2="461.00" y1="380.90" y2="532.50" stroke="#c4c4c4" stroke-width="0.8"/>
<line x1="461.00" x2="461.00" y1="534.80" y2="569.90" stroke="#c4c4c4" stroke-width="0.8"/>
<line x1="368.50" x2="368.50" y1="380.90" y2="597.50" stroke="#383838" stroke-width="1.0" stroke-dasharray="2.4,2.1" stroke-dashoffset="2.700"/>
<line x1="304.80" x2="304.80" y1="596.50" y2="599.30" stroke="#444" stroke-width="0.7"/>
<text x="304.80" y="609.10" font-size="6.80" text-anchor="middle" font-weight="normal" font-style="normal" fill="#1e1e1e" stroke="#1e1e1e" stroke-width="0.28">1</text>
<line x1="343.23" x2="343.23" y1="596.50" y2="599.30" stroke="#444" stroke-width="0.7"/>
<text x="343.23" y="609.10" font-size="6.80" text-anchor="middle" font-weight="normal" font-style="normal" fill="#1e1e1e" stroke="#1e1e1e" stroke-width="0.28">63</text>
<line x1="382.28" x2="382.28" y1="596.50" y2="599.30" stroke="#444" stroke-width="0.7"/>
<text x="382.28" y="609.10" font-size="6.80" text-anchor="middle" font-weight="normal" font-style="normal" fill="#1e1e1e" stroke="#1e1e1e" stroke-width="0.28">126</text>
<line x1="421.95" x2="421.95" y1="596.50" y2="599.30" stroke="#444" stroke-width="0.7"/>
<text x="421.95" y="609.10" font-size="6.80" text-anchor="middle" font-weight="normal" font-style="normal" fill="#1e1e1e" stroke="#1e1e1e" stroke-width="0.28">190</text>
<line x1="461.00" x2="461.00" y1="596.50" y2="599.30" stroke="#444" stroke-width="0.7"/>
<text x="461.00" y="609.10" font-size="6.80" text-anchor="middle" font-weight="normal" font-style="normal" fill="#1e1e1e" stroke="#1e1e1e" stroke-width="0.28">253</text>
<text x="382.90" y="621.40" font-size="8.40" text-anchor="middle" font-weight="normal" font-style="normal" fill="#1e1e1e" textLength="37.20" lengthAdjust="spacingAndGlyphs" stroke="#1e1e1e" stroke-width="0.28">ABC tumors</text>
<text x="382.90" y="631.50" font-size="8.40" text-anchor="middle" font-weight="normal" font-style="normal" fill="#1e1e1e" textLength="30.80" lengthAdjust="spacingAndGlyphs" stroke="#1e1e1e" stroke-width="0.28">(n = 253)</text>
<rect x="461.00" y="380.50" width="7.20" height="38.00" fill="#fff" stroke="#bbb" stroke-width="0.7"/>
<line x1="461.00" x2="461.00" y1="380.50" y2="418.50" stroke="#777" stroke-width="0.9"/>
<text x="0" y="0" font-size="6.9" font-weight="bold" fill="#111" stroke="#111" stroke-width="0.2" text-anchor="middle" transform="translate(462.50,399.50) rotate(90)">Tr</text>
<rect x="461.00" y="418.50" width="7.20" height="38.00" fill="#fff" stroke="#bbb" stroke-width="0.7"/>
<line x1="461.00" x2="461.00" y1="418.50" y2="456.50" stroke="#777" stroke-width="0.9"/>
<text x="0" y="0" font-size="6.9" font-weight="bold" fill="#111" stroke="#111" stroke-width="0.2" text-anchor="middle" transform="translate(462.50,437.50) rotate(90)">Gain+</text>
<rect x="461.00" y="456.50" width="7.20" height="38.00" fill="#fff" stroke="#bbb" stroke-width="0.7"/>
<line x1="461.00" x2="461.00" y1="456.50" y2="494.50" stroke="#777" stroke-width="0.9"/>
<text x="0" y="0" font-size="6.9" font-weight="bold" fill="#111" stroke="#111" stroke-width="0.2" text-anchor="middle" transform="translate(462.50,475.50) rotate(90)">Gain</text>
<rect x="461.00" y="494.50" width="7.20" height="38.00" fill="#fff" stroke="#bbb" stroke-width="0.7"/>
<line x1="461.00" x2="461.00" y1="494.50" y2="532.50" stroke="#777" stroke-width="0.9"/>
<text x="0" y="0" font-size="6.9" font-weight="bold" fill="#111" stroke="#111" stroke-width="0.2" text-anchor="middle" transform="translate(462.50,513.50) rotate(90)">Normal</text>
<rect x="461.00" y="534.80" width="7.20" height="35.10" fill="#fff" stroke="#bbb" stroke-width="0.7"/>
<line x1="461.00" x2="461.00" y1="534.80" y2="569.90" stroke="#777" stroke-width="0.9"/>
<text x="0" y="0" font-size="6.9" font-weight="bold" fill="#111" stroke="#111" stroke-width="0.2" text-anchor="middle" transform="translate(462.50,552.35) rotate(90)">IHC</text>
<rect x="461.00" y="571.50" width="7.20" height="25.00" fill="#fff" stroke="#bbb" stroke-width="0.7"/>
<line x1="461.00" x2="461.00" y1="571.50" y2="596.50" stroke="#777" stroke-width="0.9"/>
<text x="0" y="0" font-size="6.9" font-weight="bold" fill="#111" stroke="#111" stroke-width="0.2" text-anchor="middle" textLength="19.7" lengthAdjust="spacingAndGlyphs" transform="translate(462.50,584.00) rotate(90)">mRNA</text>
<text x="476.00" y="447.00" font-size="5.5" font-weight="bold" fill="#111" stroke="#111" stroke-width="0.18"><tspan font-style="italic">BCL2</tspan> FISH</text>
<rect x="476.40" y="451.20" width="6.6" height="6.4" fill="#a990bb" fill-opacity="0.90" stroke="#6b3f88" stroke-width="0.8"/>
<text x="486.00" y="456.10" font-size="5.70" text-anchor="start" font-weight="normal" font-style="normal" fill="#4a4a4a" >Tr</text>
<rect x="476.40" y="461.40" width="6.6" height="6.4" fill="#97a9c4" fill-opacity="0.90" stroke="#3e5f98" stroke-width="0.8"/>
<text x="486.00" y="466.30" font-size="5.70" text-anchor="start" font-weight="normal" font-style="normal" fill="#4a4a4a" >Gain+</text>
<rect x="476.40" y="471.80" width="6.6" height="6.4" fill="#97b3a9" fill-opacity="0.90" stroke="#4b8a6d" stroke-width="0.8"/>
<text x="486.00" y="476.70" font-size="5.70" text-anchor="start" font-weight="normal" font-style="normal" fill="#4a4a4a" >Gain</text>
<rect x="476.40" y="482.30" width="6.6" height="6.4" fill="#b2a28e" fill-opacity="0.90" stroke="#7a5a3a" stroke-width="0.8"/>
<text x="486.00" y="487.20" font-size="5.70" text-anchor="start" font-weight="normal" font-style="normal" fill="#4a4a4a" >Normal</text>
<text x="476.00" y="508.70" font-size="5.5" font-weight="bold" fill="#111" stroke="#111" stroke-width="0.18">BCL2 IHC</text>
<rect x="476.40" y="513.00" width="6.6" height="6.4" fill="#ebe6f7" fill-opacity="1.00" stroke="#9d8fdc" stroke-width="0.8"/>
<text x="486.00" y="517.90" font-size="5.70" text-anchor="start" font-weight="normal" font-style="normal" fill="#4a4a4a" >Pos</text>
<rect x="476.40" y="523.30" width="6.6" height="6.4" fill="#d3d0c9" fill-opacity="1.00" stroke="#555" stroke-width="0.8"/>
<text x="486.00" y="528.20" font-size="5.70" text-anchor="start" font-weight="normal" font-style="normal" fill="#4a4a4a" >Neg</text>
<text x="476.00" y="550.60" font-size="5.5" font-weight="bold" fill="#111" stroke="#111" stroke-width="0.18"><tspan font-style="italic">BCL2</tspan> mRNA</text>
<text x="476.00" y="557.20" font-size="5.70" text-anchor="start" font-weight="normal" font-style="normal" fill="#4a4a4a" >log2(zscore)</text>
<rect x="476.9" y="559.90" width="7" height="36.60" fill="url(#leg325)"/>
<text x="489.30" y="571.60" font-size="6.00" text-anchor="middle" font-weight="normal" font-style="normal" fill="#333" >2</text>
<text x="489.30" y="582.70" font-size="6.00" text-anchor="middle" font-weight="normal" font-style="normal" fill="#333" >0</text>
<text x="489.30" y="594.30" font-size="6.00" text-anchor="middle" font-weight="normal" font-style="normal" fill="#333" >-2</text>
</svg>
</body></html>
